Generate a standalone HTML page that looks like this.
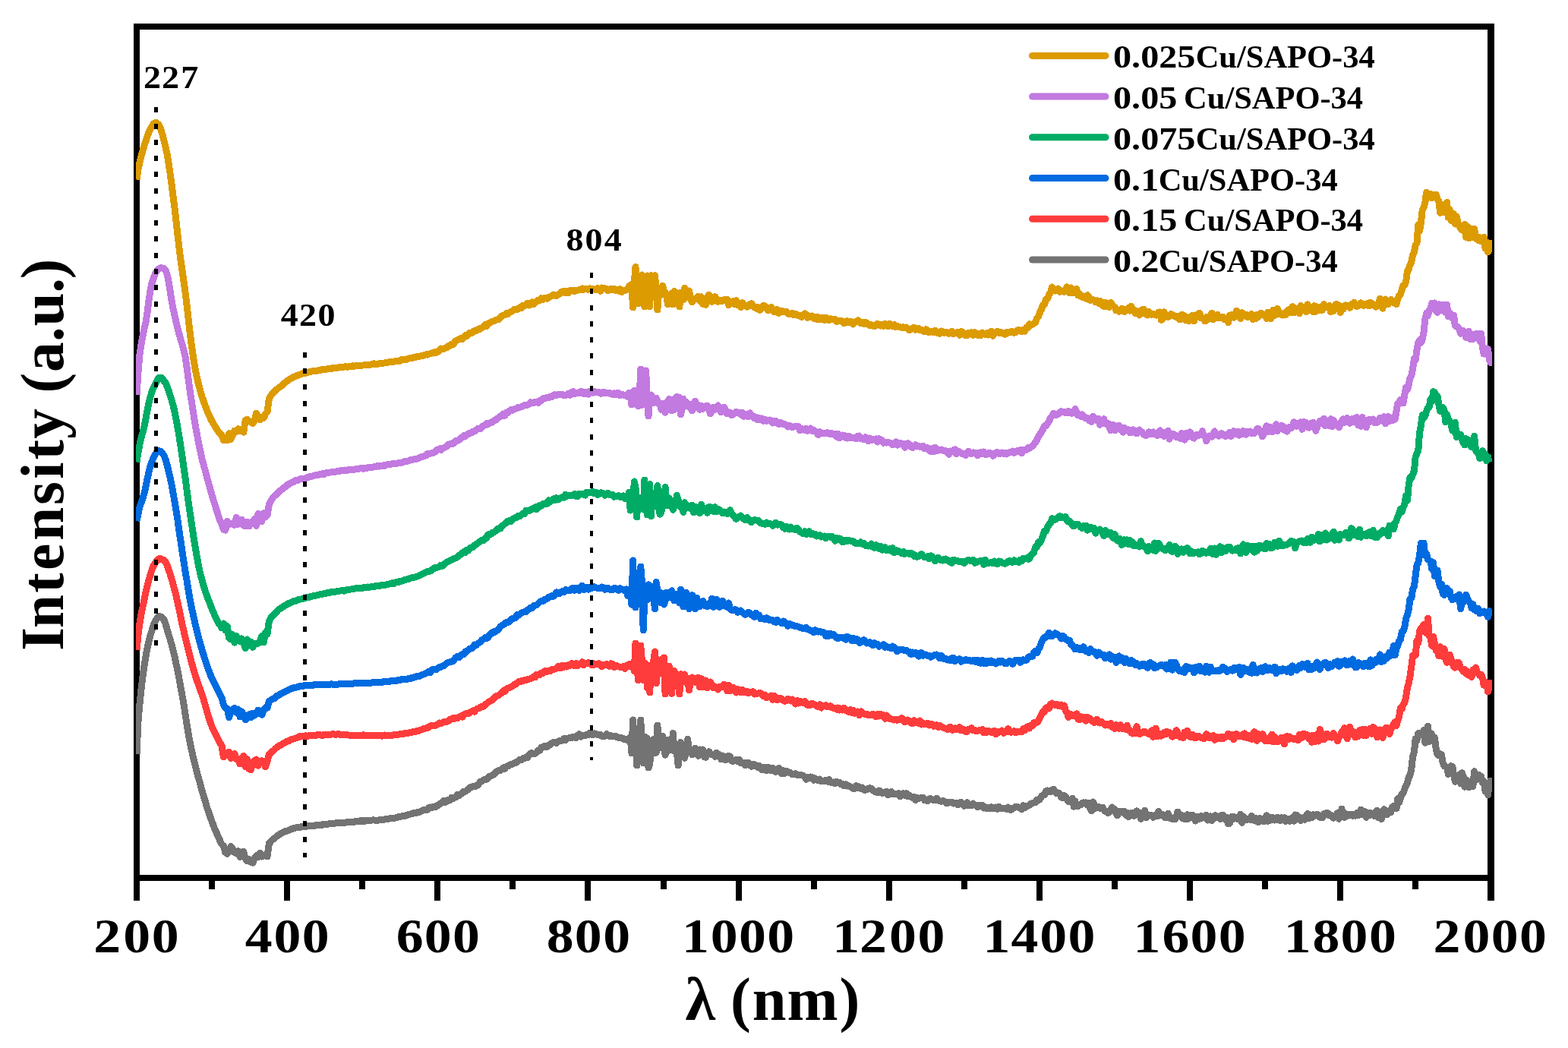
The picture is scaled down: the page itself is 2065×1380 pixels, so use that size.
<!DOCTYPE html>
<html lang="en"><head><meta charset="utf-8"><title>UV-Vis-NIR spectra of Cu/SAPO-34</title>
<style>
html,body{margin:0;padding:0;background:#fff;}
body{width:2065px;height:1380px;overflow:hidden;}
svg{display:block;}
svg text{font-family:"Liberation Serif","DejaVu Serif",serif;font-weight:bold;fill:#000;}
</style></head>
<body>
<svg xmlns="http://www.w3.org/2000/svg" width="2065" height="1380" viewBox="0 0 2065 1380">
<rect width="2065" height="1380" fill="#fff"/>
<g shape-rendering="crispEdges">
<rect x="176" y="31" width="8" height="1155" fill="#000"/>
<rect x="1959" y="31" width="9" height="1155" fill="#000"/>
<rect x="176" y="31" width="1792" height="8" fill="#000"/>
<rect x="176" y="1152" width="1792" height="8" fill="#000"/>
<rect x="275" y="1160" width="8" height="11" fill="#000"/>
<rect x="374" y="1160" width="8" height="26" fill="#000"/>
<rect x="473" y="1160" width="8" height="11" fill="#000"/>
<rect x="572" y="1160" width="8" height="26" fill="#000"/>
<rect x="671" y="1160" width="8" height="11" fill="#000"/>
<rect x="770" y="1160" width="8" height="26" fill="#000"/>
<rect x="870" y="1160" width="8" height="11" fill="#000"/>
<rect x="969" y="1160" width="8" height="26" fill="#000"/>
<rect x="1068" y="1160" width="8" height="11" fill="#000"/>
<rect x="1167" y="1160" width="8" height="26" fill="#000"/>
<rect x="1266" y="1160" width="8" height="11" fill="#000"/>
<rect x="1365" y="1160" width="8" height="26" fill="#000"/>
<rect x="1464" y="1160" width="8" height="11" fill="#000"/>
<rect x="1563" y="1160" width="8" height="26" fill="#000"/>
<rect x="1662" y="1160" width="8" height="11" fill="#000"/>
<rect x="1761" y="1160" width="8" height="26" fill="#000"/>
<rect x="1860" y="1160" width="8" height="11" fill="#000"/>
</g>
<clipPath id="pc"><rect x="179" y="39" width="1786" height="1113"/></clipPath>
<g shape-rendering="crispEdges" clip-path="url(#pc)">
<polyline fill="none" stroke="#DC9B00" stroke-width="9" stroke-linejoin="round" points="180.0,236.5 182.0,223.1 184.0,213.3 186.0,205.2 188.0,198.8 190.0,191.3 192.0,186.1 194.0,179.3 196.0,174.4 198.0,169.8 200.0,166.5 202.0,162.9 204.0,161.9 206.0,161.5 208.0,163.3 210.0,165.3 212.0,171.1 214.0,177.7 216.0,185.2 218.0,193.6 220.0,202.6 222.0,214.5 224.0,227.9 226.0,242.7 228.0,258.4 230.0,273.9 232.0,291.4 234.0,309.2 236.0,326.8 238.0,342.7 240.0,356.5 242.0,370.3 244.0,384.8 246.0,401.2 248.0,418.9 250.0,436.7 252.0,452.5 254.0,466.7 256.0,479.6 258.0,490.6 260.0,499.9 262.0,508.0 264.0,515.3 266.0,522.6 268.0,528.0 270.0,533.3 272.0,538.8 274.0,544.2 276.0,548.2 278.0,552.5 280.0,556.3 282.0,559.6 284.0,562.7 286.0,566.0 288.0,568.8 290.0,571.2 292.0,573.2 294.4,579.7 296.8,577.4 299.2,580.0 301.6,570.7 304.0,578.5 306.4,572.9 308.8,567.1 311.2,568.6 313.6,564.7 316.0,568.0 318.4,567.9 320.8,569.1 323.2,553.5 325.6,552.1 328.0,554.5 330.4,555.9 332.8,557.5 335.2,554.2 337.6,544.1 340.0,549.4 342.4,552.7 344.8,549.6 347.2,550.4 349.6,545.0 352.0,542.3 354.4,525.0 356.8,520.6 358.8,518.3 360.8,516.2 362.8,513.9 364.8,512.5 366.8,510.8 368.8,509.6 370.8,508.1 372.8,506.2 374.8,504.4 376.8,502.7 378.8,501.4 380.8,499.8 382.8,498.5 384.8,497.5 386.8,496.3 388.8,495.8 390.8,494.5 392.8,494.2 394.8,493.2 396.8,492.7 398.8,491.7 400.8,491.6 402.8,491.2 404.8,490.2 406.8,490.0 408.8,489.6 410.8,488.8 412.8,489.0 414.8,488.8 416.8,488.0 418.8,488.0 420.8,487.2 422.8,487.2 424.8,486.4 426.8,486.9 428.8,486.4 430.8,486.0 432.8,485.5 434.8,485.8 436.8,485.8 438.8,484.3 440.8,485.0 442.8,484.9 444.8,484.3 446.8,483.6 448.8,484.0 450.8,483.5 452.8,483.1 454.8,482.8 456.8,483.1 458.8,483.0 460.8,482.3 462.8,482.5 464.8,481.8 466.8,482.2 468.8,481.8 470.8,481.5 472.8,481.3 474.8,481.4 476.8,481.2 478.8,480.9 480.8,480.6 482.8,480.4 484.8,480.4 486.8,480.1 488.8,480.0 490.8,479.5 492.8,478.7 494.8,479.5 496.8,479.7 498.8,478.9 500.8,478.6 502.8,478.3 504.8,478.1 506.8,477.9 508.8,477.3 510.8,477.2 512.8,476.8 514.8,476.8 516.8,476.3 518.8,476.2 520.8,475.6 522.8,475.6 524.8,475.0 526.8,475.2 528.8,473.6 530.8,473.5 532.8,473.6 534.8,473.6 536.8,472.4 538.8,472.0 540.8,471.5 542.8,471.5 544.8,470.6 546.8,470.5 548.8,469.8 550.8,469.1 552.8,469.1 554.8,468.8 556.8,468.6 558.8,467.7 560.8,466.8 562.8,467.1 564.8,466.3 566.8,465.7 568.8,464.8 570.8,465.1 572.8,463.8 574.8,464.3 576.8,462.9 578.8,461.8 580.8,459.1 582.8,460.0 584.8,459.0 586.8,458.3 588.8,457.5 590.8,455.4 592.8,455.3 594.8,453.1 596.8,453.9 598.8,450.2 600.8,448.6 602.8,447.5 604.8,446.9 606.8,445.5 608.8,446.8 610.8,443.7 612.8,441.7 614.8,442.4 616.8,439.9 618.8,438.1 620.8,438.6 622.8,437.3 624.8,435.4 626.8,435.9 628.8,433.8 630.8,434.0 632.8,432.1 634.8,431.9 636.8,429.7 638.8,427.6 640.8,429.5 642.8,426.1 644.8,425.4 646.8,424.0 648.8,423.3 650.8,422.7 652.8,421.6 654.8,420.9 656.8,420.8 658.8,418.2 660.8,416.3 662.8,415.2 664.8,414.6 666.8,412.7 668.8,413.6 670.8,411.4 672.8,410.5 674.8,409.7 676.8,407.6 678.8,407.0 680.8,407.4 682.8,406.4 684.8,404.7 686.8,405.7 688.8,402.4 690.8,402.4 692.8,401.8 694.8,399.2 696.8,402.1 698.8,400.1 700.8,397.8 702.8,400.7 704.8,398.2 706.8,397.3 708.8,395.3 710.8,395.4 712.8,392.7 714.8,394.8 716.8,392.7 718.8,392.6 720.8,393.2 722.8,391.3 724.8,390.6 726.8,389.9 728.8,388.0 730.8,389.2 732.8,389.4 734.8,387.8 736.8,387.4 738.8,384.7 740.8,384.2 742.8,383.1 744.8,385.8 746.8,383.7 748.8,385.4 750.8,382.4 752.8,382.6 754.8,382.9 756.8,383.6 758.8,382.3 760.8,382.2 762.8,381.7 764.8,381.7 766.8,379.9 768.8,381.2 770.8,380.7 772.8,380.8 774.8,381.3 776.8,379.9 778.8,380.6 780.8,380.3 782.8,381.2 784.8,381.7 786.8,379.6 788.8,381.5 790.8,383.3 792.8,379.0 794.8,379.8 796.8,379.8 798.8,380.6 800.8,382.9 802.8,381.0 804.8,380.2 806.8,381.8 808.8,380.4 810.8,382.6 812.8,381.7 814.8,383.0 816.8,380.7 818.8,384.6 820.8,382.6 822.8,382.6 824.8,381.8 826.8,379.9 828.5,376.8 830.2,381.1 831.9,374.3 833.6,405.0 835.3,371.0 837.0,351.5 838.7,396.3 840.4,400.0 842.1,398.8 843.8,380.3 845.5,362.0 847.2,388.7 848.9,404.0 850.6,373.0 852.3,363.0 854.0,400.0 855.7,404.0 857.4,362.7 859.1,364.0 860.8,372.0 862.5,362.7 864.2,380.9 865.9,408.0 867.6,381.1 869.3,389.0 871.0,385.0 872.7,376.0 874.4,384.9 876.1,385.2 877.8,390.6 879.5,401.0 881.2,394.8 882.9,394.1 884.6,386.3 886.3,401.0 888.0,383.5 889.7,384.9 891.4,389.6 893.1,387.6 894.8,404.0 896.5,385.3 898.2,386.3 899.9,394.8 901.6,379.3 903.6,392.0 905.6,389.1 907.6,383.0 909.6,393.6 911.6,398.0 913.6,394.4 915.6,393.3 917.6,392.0 919.6,390.0 921.6,396.3 923.6,390.9 925.6,400.5 927.6,395.4 929.6,401.5 931.6,391.0 933.6,388.2 935.6,396.6 937.6,397.2 939.6,395.0 941.6,390.6 943.6,394.1 945.6,397.4 947.6,395.5 949.6,396.0 951.6,396.2 953.6,394.6 955.6,395.9 957.6,394.2 959.6,401.8 961.6,397.1 963.6,399.5 965.6,396.7 967.6,400.8 969.6,395.8 971.6,401.7 973.6,400.2 975.6,404.5 977.6,398.6 979.6,401.5 981.6,402.3 983.6,404.2 985.6,401.7 987.6,402.9 989.6,399.6 991.6,402.1 993.6,404.6 995.6,406.0 997.6,404.1 999.6,408.2 1001.6,408.0 1003.6,405.5 1005.6,402.2 1007.6,403.5 1009.6,405.4 1011.6,408.6 1013.6,407.7 1015.6,404.5 1017.6,407.6 1019.6,410.6 1021.6,408.0 1023.6,407.8 1025.6,412.3 1027.6,409.7 1029.6,409.2 1031.6,410.8 1033.6,410.7 1035.6,410.4 1037.6,413.2 1039.6,413.5 1041.6,413.5 1043.6,412.4 1045.6,414.7 1047.6,413.3 1049.6,414.4 1051.6,415.6 1053.6,415.7 1055.6,417.5 1057.6,415.9 1059.6,413.0 1061.6,414.2 1063.6,418.3 1065.6,416.1 1067.6,417.6 1069.6,416.0 1071.6,419.2 1073.6,417.4 1075.6,420.5 1077.6,417.8 1079.6,420.6 1081.6,420.2 1083.6,418.4 1085.6,421.5 1087.6,418.7 1089.6,419.1 1091.6,421.7 1093.6,419.9 1095.6,420.2 1097.6,420.9 1099.6,420.1 1101.6,423.4 1103.6,423.0 1105.6,422.2 1107.6,422.4 1109.6,423.4 1111.6,425.6 1113.6,424.5 1115.6,422.6 1117.6,424.8 1119.6,423.7 1121.6,423.7 1123.6,427.1 1125.6,423.8 1127.6,423.9 1129.6,421.9 1131.6,423.0 1133.6,426.0 1135.6,424.4 1137.6,426.5 1139.6,424.2 1141.6,425.0 1143.6,427.3 1145.6,428.7 1147.6,427.6 1149.6,428.7 1151.6,429.7 1153.6,428.9 1155.6,426.2 1157.6,427.7 1159.6,429.0 1161.6,427.7 1163.6,429.2 1165.6,426.4 1167.6,427.7 1169.6,430.0 1171.6,426.1 1173.6,428.0 1175.6,429.8 1177.6,427.5 1179.6,430.4 1181.6,429.4 1183.6,430.3 1185.6,430.6 1187.6,431.5 1189.6,430.6 1191.6,431.8 1193.6,431.0 1195.6,433.0 1197.6,434.9 1199.6,432.9 1201.6,433.1 1203.6,431.3 1205.6,434.3 1207.6,432.3 1209.6,432.5 1211.6,434.7 1213.6,434.4 1215.6,436.0 1217.6,436.7 1219.6,433.9 1221.6,435.2 1223.6,437.8 1225.6,436.8 1227.6,436.7 1229.6,437.8 1231.6,435.2 1233.6,437.3 1235.6,438.8 1237.6,439.3 1239.6,436.0 1241.6,437.0 1243.6,438.3 1245.6,437.5 1247.6,437.6 1249.6,439.4 1251.6,438.1 1253.6,436.2 1255.6,439.6 1257.6,438.6 1259.6,438.3 1261.6,437.2 1263.6,441.2 1265.6,436.5 1267.6,437.3 1269.6,439.5 1271.6,441.8 1273.6,442.0 1275.6,438.3 1277.6,439.7 1279.6,437.6 1281.6,441.4 1283.6,437.6 1285.6,439.5 1287.6,441.2 1289.6,439.2 1291.6,441.6 1293.6,438.0 1295.6,439.7 1297.6,440.3 1299.6,438.7 1301.6,440.9 1303.6,439.5 1305.6,436.1 1307.6,442.2 1309.6,439.3 1311.6,438.4 1313.6,436.1 1315.6,438.2 1317.6,437.3 1319.6,438.8 1321.6,438.3 1323.6,440.4 1325.6,437.7 1327.6,438.1 1329.6,437.8 1331.6,436.8 1333.6,436.6 1335.6,438.3 1337.6,437.6 1339.6,435.2 1341.6,434.2 1343.6,435.4 1345.6,436.8 1347.6,434.3 1349.6,436.2 1351.6,431.5 1353.6,431.9 1355.6,426.8 1357.6,428.4 1359.6,427.2 1361.6,426.0 1363.6,424.8 1365.6,419.0 1367.6,416.9 1369.6,411.1 1371.6,407.3 1373.6,401.4 1375.6,400.8 1377.6,393.9 1379.6,393.2 1381.6,387.7 1383.6,385.2 1385.6,378.0 1387.6,382.1 1389.6,383.0 1391.6,382.1 1393.6,380.0 1395.6,384.2 1397.6,382.6 1399.6,383.7 1401.6,384.2 1403.4,380.8 1405.2,377.9 1407.0,380.6 1408.8,386.0 1410.6,379.0 1412.4,385.5 1414.2,382.4 1416.0,385.4 1417.8,380.6 1419.6,388.8 1421.4,386.7 1423.2,390.0 1425.0,389.3 1426.8,391.8 1428.6,390.5 1430.4,393.5 1432.2,388.7 1434.0,390.4 1435.8,395.6 1437.6,394.4 1439.4,394.6 1441.2,395.4 1443.0,397.8 1444.8,395.8 1446.6,399.2 1448.4,396.3 1450.2,398.3 1452.0,402.4 1453.8,403.3 1455.6,398.4 1457.4,403.9 1459.2,399.7 1461.0,404.8 1462.8,398.5 1464.6,401.1 1466.4,403.1 1468.2,404.5 1470.0,409.0 1471.8,408.1 1473.6,410.3 1475.4,409.8 1477.2,406.4 1479.0,406.8 1480.8,410.7 1482.6,408.4 1484.4,408.3 1486.2,405.5 1488.0,409.1 1489.8,403.2 1491.6,408.9 1493.4,407.8 1495.2,412.5 1497.0,409.7 1498.8,410.4 1500.6,415.1 1502.4,408.9 1504.2,412.8 1506.0,407.1 1507.8,412.6 1509.6,413.7 1511.4,415.1 1513.2,410.5 1515.0,414.0 1516.8,414.1 1518.6,413.4 1520.4,414.0 1522.2,415.0 1524.0,415.0 1525.8,411.3 1527.6,411.0 1529.4,421.3 1531.2,419.8 1533.0,410.9 1534.8,416.2 1536.6,416.9 1538.4,417.4 1540.2,416.0 1542.0,413.3 1543.8,415.6 1545.6,415.0 1547.4,417.0 1549.2,416.1 1551.0,416.7 1552.8,420.2 1554.6,421.0 1556.4,414.4 1558.2,416.7 1560.0,415.9 1561.8,421.8 1563.6,418.3 1565.4,422.8 1567.2,417.4 1569.0,418.9 1570.8,415.0 1572.6,422.6 1574.4,417.9 1576.2,414.6 1578.0,417.2 1579.8,412.2 1581.6,418.7 1583.4,419.0 1585.2,419.5 1587.0,422.9 1588.8,417.6 1590.6,420.8 1592.4,419.3 1594.2,417.7 1596.0,412.2 1597.8,420.9 1599.6,416.6 1601.4,418.1 1603.2,414.2 1605.0,418.7 1606.8,418.1 1608.6,417.8 1610.4,417.2 1612.2,420.6 1614.0,420.3 1615.8,419.5 1617.6,424.7 1619.4,415.4 1621.2,415.9 1623.0,414.0 1624.8,418.2 1626.6,414.8 1628.4,409.2 1630.2,413.0 1632.0,416.8 1633.8,419.6 1635.6,411.7 1637.4,414.5 1639.2,415.8 1641.0,414.0 1642.8,417.7 1644.6,416.0 1646.4,416.9 1648.2,413.6 1650.0,420.5 1651.8,415.7 1653.6,419.6 1655.4,414.2 1657.2,417.3 1659.0,413.3 1660.8,412.3 1662.6,413.0 1664.4,414.9 1666.2,414.3 1668.0,419.6 1669.8,411.1 1671.6,411.2 1673.4,419.7 1675.2,416.1 1677.0,408.1 1678.8,415.3 1680.6,414.2 1682.4,406.4 1684.2,411.7 1686.0,412.5 1687.8,414.6 1689.6,415.0 1691.4,412.0 1693.2,414.6 1695.0,410.6 1696.8,408.0 1698.6,407.5 1700.4,411.9 1702.2,403.7 1704.0,411.9 1705.8,405.9 1707.6,408.1 1709.4,410.7 1711.2,412.8 1713.0,402.3 1714.8,405.8 1716.6,408.4 1718.4,406.1 1720.2,410.6 1722.0,400.8 1723.8,408.6 1725.6,408.6 1727.4,407.2 1729.2,410.5 1731.0,402.7 1732.8,410.2 1734.6,404.0 1736.4,408.5 1738.2,404.9 1740.0,408.5 1741.8,408.2 1743.6,400.6 1745.4,404.8 1747.2,404.8 1749.0,404.2 1750.8,402.3 1752.6,410.9 1754.4,405.2 1756.2,409.6 1758.0,402.3 1759.8,400.5 1761.6,404.4 1763.4,401.9 1765.2,411.7 1767.0,404.3 1768.8,407.2 1770.6,402.4 1772.4,401.9 1774.2,402.7 1776.0,403.8 1777.8,405.3 1779.6,401.8 1781.4,399.8 1783.2,398.3 1785.0,401.5 1786.8,403.5 1788.6,402.9 1790.4,401.1 1792.2,398.9 1794.0,401.3 1795.8,402.6 1797.6,400.3 1799.4,400.6 1801.2,399.5 1803.0,403.0 1804.8,398.1 1806.6,400.0 1808.4,400.6 1810.2,401.6 1812.0,404.1 1813.8,401.1 1815.6,400.7 1817.4,393.2 1819.2,400.4 1821.0,406.1 1822.8,394.9 1824.6,394.0 1826.4,396.6 1828.2,400.6 1830.0,398.5 1831.8,394.6 1833.6,395.7 1835.4,398.7 1837.2,396.2 1839.0,400.8 1840.8,393.8 1842.6,389.2 1844.4,387.7 1846.2,381.6 1848.0,375.9 1849.8,375.4 1851.6,371.0 1853.4,357.4 1855.2,354.4 1857.0,348.7 1858.8,345.0 1860.6,335.7 1862.4,331.9 1864.2,322.7 1866.0,319.9 1867.8,296.0 1869.6,304.5 1871.4,293.1 1873.2,276.4 1875.0,273.5 1876.8,266.9 1878.6,253.4 1880.4,255.2 1882.2,257.7 1884.0,255.3 1885.8,260.7 1887.6,256.3 1889.4,258.1 1891.2,256.2 1893.0,262.1 1894.8,264.5 1896.6,280.2 1898.4,274.0 1900.2,269.1 1902.0,279.8 1903.8,278.4 1905.6,266.6 1907.4,286.4 1909.2,276.0 1911.0,290.6 1912.8,283.1 1914.6,281.8 1916.4,295.1 1918.2,284.7 1920.0,292.4 1921.8,297.6 1923.6,301.2 1925.4,303.1 1927.2,299.3 1929.0,295.3 1930.8,312.7 1932.6,298.5 1934.4,313.9 1936.2,301.3 1938.0,312.0 1939.8,312.6 1941.6,301.2 1943.4,311.0 1945.2,315.0 1947.0,316.4 1948.8,312.8 1950.6,317.6 1952.4,315.2 1954.2,312.3 1956.0,326.9 1957.8,319.1 1959.6,332.0 1961.4,328.6 1963.2,320.8 1963.5,325.3"/>
<polyline fill="none" stroke="#C279E0" stroke-width="9" stroke-linejoin="round" points="180.0,519.9 182.0,490.0 184.0,466.6 186.0,453.6 188.0,442.4 190.0,433.0 192.0,424.5 194.0,411.5 196.0,395.7 198.0,382.8 200.0,372.9 202.0,366.9 204.0,361.4 206.0,357.4 208.0,355.0 210.0,353.3 212.0,352.6 214.0,353.0 216.0,353.7 218.0,356.0 220.0,361.1 222.0,370.0 224.0,382.6 226.0,395.7 228.0,406.2 230.0,415.5 232.0,424.1 234.0,432.2 236.0,439.9 238.0,447.3 240.0,453.3 242.0,461.0 244.0,469.6 246.0,483.6 248.0,498.5 250.0,513.6 252.0,526.7 254.0,539.3 256.0,552.2 258.0,564.1 260.0,575.0 262.0,585.7 264.0,594.4 266.0,604.1 268.0,611.8 270.0,618.8 272.0,626.6 274.0,633.8 276.0,640.8 278.0,648.0 280.0,655.1 282.0,661.3 284.0,667.7 286.0,674.0 288.0,680.4 290.0,686.2 292.0,689.8 294.4,697.2 296.8,698.1 299.2,686.4 301.6,690.7 304.0,689.7 306.4,689.8 308.8,691.4 311.2,681.3 313.6,690.2 316.0,687.3 318.4,684.3 320.8,692.1 323.2,692.9 325.6,687.4 328.0,693.0 330.4,687.7 332.8,688.6 335.2,683.3 337.6,692.5 340.0,676.3 342.4,684.6 344.8,686.8 347.2,675.7 349.6,680.8 352.0,678.7 354.4,664.1 356.8,659.3 358.8,656.3 360.8,653.6 362.8,652.2 364.8,650.2 366.8,647.9 368.8,646.4 370.8,644.8 372.8,643.3 374.8,641.6 376.8,640.5 378.8,638.1 380.8,637.5 382.8,636.1 384.8,635.0 386.8,634.5 388.8,632.6 390.8,632.9 392.8,632.0 394.8,630.9 396.8,630.8 398.8,630.0 400.8,630.4 402.8,629.7 404.8,628.8 406.8,628.0 408.8,627.6 410.8,627.1 412.8,626.6 414.8,626.0 416.8,625.7 418.8,625.4 420.8,624.8 422.8,624.3 424.8,623.8 426.8,624.4 428.8,622.8 430.8,622.6 432.8,622.6 434.8,622.0 436.8,621.9 438.8,621.7 440.8,621.5 442.8,621.0 444.8,620.2 446.8,620.6 448.8,619.5 450.8,619.7 452.8,619.4 454.8,619.0 456.8,619.3 458.8,618.8 460.8,618.9 462.8,618.0 464.8,618.5 466.8,618.1 468.8,617.8 470.8,617.1 472.8,617.2 474.8,616.6 476.8,616.2 478.8,617.3 480.8,616.5 482.8,616.5 484.8,615.6 486.8,615.7 488.8,615.4 490.8,615.1 492.8,614.7 494.8,614.4 496.8,613.5 498.8,614.1 500.8,613.7 502.8,613.6 504.8,612.9 506.8,613.2 508.8,612.3 510.8,611.7 512.8,612.0 514.8,611.3 516.8,610.7 518.8,610.8 520.8,610.6 522.8,610.1 524.8,609.8 526.8,610.0 528.8,609.1 530.8,608.9 532.8,607.4 534.8,607.7 536.8,607.3 538.8,606.5 540.8,605.8 542.8,605.7 544.8,604.9 546.8,604.3 548.8,604.2 550.8,603.6 552.8,602.6 554.8,601.7 556.8,601.2 558.8,600.6 560.8,600.0 562.8,597.5 564.8,597.6 566.8,597.3 568.8,596.7 570.8,596.1 572.8,595.1 574.8,592.7 576.8,592.2 578.8,590.9 580.8,592.4 582.8,590.2 584.8,589.5 586.8,588.9 588.8,586.9 590.8,585.2 592.8,584.7 594.8,583.9 596.8,584.2 598.8,582.6 600.8,580.0 602.8,580.3 604.8,579.2 606.8,576.7 608.8,576.3 610.8,573.8 612.8,574.5 614.8,572.9 616.8,570.9 618.8,570.3 620.8,570.0 622.8,568.2 624.8,567.8 626.8,566.9 628.8,564.7 630.8,564.0 632.8,564.9 634.8,562.2 636.8,560.4 638.8,560.0 640.8,557.8 642.8,558.7 644.8,557.0 646.8,556.5 648.8,555.3 650.8,553.8 652.8,553.1 654.8,551.4 656.8,549.7 658.8,548.3 660.8,547.7 662.8,545.0 664.8,547.3 666.8,543.4 668.8,543.5 670.8,541.4 672.8,539.7 674.8,540.2 676.8,539.0 678.8,538.2 680.8,537.9 682.8,536.2 684.8,536.3 686.8,535.7 688.8,534.4 690.8,533.8 692.8,533.8 694.8,532.9 696.8,532.3 698.8,529.7 700.8,531.0 702.8,530.7 704.8,529.3 706.8,529.2 708.8,530.3 710.8,527.4 712.8,527.4 714.8,525.0 716.8,524.4 718.8,524.3 720.8,523.1 722.8,523.8 724.8,522.2 726.8,522.5 728.8,520.5 730.8,519.8 732.8,520.5 734.8,519.6 736.8,519.7 738.8,519.4 740.8,519.3 742.8,520.7 744.8,520.8 746.8,519.8 748.8,518.3 750.8,520.3 752.8,516.5 754.8,515.7 756.8,518.3 758.8,517.8 760.8,517.5 762.8,517.5 764.8,515.4 766.8,515.8 768.8,518.6 770.8,518.2 772.8,516.1 774.8,519.2 776.8,515.5 778.8,516.1 780.8,517.1 782.8,515.4 784.8,516.2 786.8,516.7 788.8,516.5 790.8,518.2 792.8,518.0 794.8,516.1 796.8,516.7 798.8,517.9 800.8,517.8 802.8,517.1 804.8,518.8 806.8,519.5 808.8,518.0 810.8,520.0 812.8,517.4 814.8,517.8 816.8,520.7 818.8,519.5 820.8,519.7 822.8,521.0 824.8,520.9 826.8,522.7 828.5,517.3 830.2,521.1 831.9,533.0 833.6,523.5 835.3,514.1 837.0,526.5 838.7,526.6 840.4,535.0 842.1,525.0 843.8,486.0 845.5,533.2 847.2,490.0 848.9,513.5 850.6,488.0 852.3,524.0 854.0,548.0 855.7,523.5 857.4,520.0 859.1,527.8 860.8,530.8 862.5,526.8 864.2,524.3 865.9,527.9 867.6,532.1 869.3,530.8 871.0,539.4 872.7,531.3 874.4,532.9 876.1,543.1 877.8,529.5 879.5,532.8 881.2,525.4 882.9,530.0 884.6,540.6 886.3,532.1 888.0,539.5 889.7,524.0 891.4,522.3 893.1,532.8 894.8,523.2 896.5,545.8 898.2,538.7 899.9,525.0 901.6,531.2 903.6,529.3 905.6,534.8 907.6,532.5 909.6,537.8 911.6,540.6 913.6,532.5 915.6,528.2 917.6,536.6 919.6,533.5 921.6,539.5 923.6,534.1 925.6,538.4 927.6,536.6 929.6,534.8 931.6,534.1 933.6,538.6 935.6,545.0 937.6,539.4 939.6,536.4 941.6,539.4 943.6,537.8 945.6,533.9 947.6,539.0 949.6,542.8 951.6,537.9 953.6,536.2 955.6,540.8 957.6,544.7 959.6,542.8 961.6,543.4 963.6,546.8 965.6,545.6 967.6,543.9 969.6,542.3 971.6,543.6 973.6,543.6 975.6,546.1 977.6,543.1 979.6,548.4 981.6,546.3 983.6,545.8 985.6,548.6 987.6,543.9 989.6,546.8 991.6,547.7 993.6,550.8 995.6,549.1 997.6,552.9 999.6,550.2 1001.6,552.4 1003.6,550.9 1005.6,554.4 1007.6,552.6 1009.6,554.4 1011.6,553.3 1013.6,552.9 1015.6,554.7 1017.6,557.1 1019.6,554.5 1021.6,554.1 1023.6,556.4 1025.6,558.5 1027.6,556.2 1029.6,557.4 1031.6,559.0 1033.6,558.7 1035.6,560.1 1037.6,561.9 1039.6,560.7 1041.6,561.0 1043.6,562.7 1045.6,562.0 1047.6,561.1 1049.6,561.5 1051.6,561.8 1053.6,566.8 1055.6,564.4 1057.6,565.8 1059.6,566.4 1061.6,564.4 1063.6,567.2 1065.6,565.9 1067.6,564.0 1069.6,567.2 1071.6,566.4 1073.6,567.9 1075.6,569.3 1077.6,572.6 1079.6,568.9 1081.6,569.8 1083.6,570.9 1085.6,571.0 1087.6,570.9 1089.6,569.8 1091.6,570.4 1093.6,571.9 1095.6,570.7 1097.6,571.8 1099.6,571.2 1101.6,575.1 1103.6,571.5 1105.6,576.9 1107.6,573.4 1109.6,573.0 1111.6,573.1 1113.6,576.3 1115.6,577.0 1117.6,574.4 1119.6,576.5 1121.6,576.0 1123.6,576.1 1125.6,576.9 1127.6,578.0 1129.6,574.2 1131.6,574.0 1133.6,577.9 1135.6,577.7 1137.6,579.0 1139.6,575.7 1141.6,577.0 1143.6,581.0 1145.6,577.0 1147.6,579.8 1149.6,578.3 1151.6,579.1 1153.6,577.9 1155.6,582.1 1157.6,577.7 1159.6,579.0 1161.6,579.8 1163.6,583.2 1165.6,582.2 1167.6,583.1 1169.6,582.4 1171.6,583.1 1173.6,583.8 1175.6,585.7 1177.6,584.1 1179.6,581.8 1181.6,586.1 1183.6,584.9 1185.6,583.4 1187.6,585.1 1189.6,584.2 1191.6,589.2 1193.6,585.9 1195.6,583.7 1197.6,587.5 1199.6,586.1 1201.6,589.6 1203.6,588.3 1205.6,585.7 1207.6,588.0 1209.6,587.5 1211.6,588.3 1213.6,588.8 1215.6,587.1 1217.6,590.7 1219.6,589.3 1221.6,589.6 1223.6,592.3 1225.6,594.3 1227.6,590.8 1229.6,594.8 1231.6,589.3 1233.6,593.5 1235.6,592.0 1237.6,593.1 1239.6,592.0 1241.6,592.8 1243.6,593.5 1245.6,593.7 1247.6,595.1 1249.6,598.2 1251.6,594.0 1253.6,595.0 1255.6,592.8 1257.6,591.9 1259.6,597.9 1261.6,594.0 1263.6,595.1 1265.6,596.4 1267.6,597.9 1269.6,597.1 1271.6,599.5 1273.6,596.6 1275.6,594.2 1277.6,597.2 1279.6,597.3 1281.6,595.9 1283.6,596.8 1285.6,596.5 1287.6,600.0 1289.6,596.6 1291.6,595.5 1293.6,598.0 1295.6,594.9 1297.6,598.3 1299.6,598.3 1301.6,596.5 1303.6,596.9 1305.6,596.9 1307.6,600.2 1309.6,598.4 1311.6,595.9 1313.6,595.7 1315.6,597.4 1317.6,597.3 1319.6,596.0 1321.6,597.3 1323.6,596.4 1325.6,598.0 1327.6,596.8 1329.6,595.7 1331.6,595.8 1333.6,593.9 1335.6,596.2 1337.6,595.2 1339.6,593.6 1341.6,594.1 1343.6,592.7 1345.6,596.9 1347.6,592.1 1349.6,593.0 1351.6,592.2 1353.6,589.8 1355.6,590.2 1357.6,588.7 1359.6,587.9 1361.6,585.0 1363.6,582.3 1365.6,579.3 1367.6,574.8 1369.6,571.9 1371.6,569.0 1373.6,565.4 1375.6,560.7 1377.6,561.1 1379.6,557.4 1381.6,554.6 1383.6,549.9 1385.6,547.8 1387.6,544.2 1389.6,546.2 1391.6,546.2 1393.6,545.3 1395.6,543.7 1397.6,541.6 1399.6,542.7 1401.6,542.3 1403.4,543.8 1405.2,543.9 1407.0,541.4 1408.8,542.1 1410.6,544.2 1412.4,544.0 1414.2,542.9 1416.0,538.6 1417.8,542.8 1419.6,546.9 1421.4,545.8 1423.2,548.4 1425.0,545.9 1426.8,547.7 1428.6,550.2 1430.4,550.7 1432.2,550.7 1434.0,553.1 1435.8,554.4 1437.6,555.2 1439.4,548.3 1441.2,551.9 1443.0,553.0 1444.8,553.6 1446.6,551.1 1448.4,559.2 1450.2,554.1 1452.0,557.5 1453.8,551.8 1455.6,557.3 1457.4,558.5 1459.2,557.4 1461.0,562.2 1462.8,567.0 1464.6,559.2 1466.4,559.7 1468.2,566.9 1470.0,564.3 1471.8,562.5 1473.6,560.4 1475.4,566.1 1477.2,565.2 1479.0,569.1 1480.8,563.2 1482.6,565.4 1484.4,565.4 1486.2,566.0 1488.0,569.8 1489.8,569.5 1491.6,565.9 1493.4,567.7 1495.2,567.6 1497.0,570.9 1498.8,568.3 1500.6,566.0 1502.4,568.3 1504.2,569.3 1506.0,572.1 1507.8,573.2 1509.6,573.4 1511.4,571.1 1513.2,568.9 1515.0,572.0 1516.8,570.1 1518.6,569.0 1520.4,571.7 1522.2,572.1 1524.0,573.5 1525.8,568.8 1527.6,566.8 1529.4,572.9 1531.2,569.0 1533.0,574.6 1534.8,569.0 1536.6,570.6 1538.4,567.3 1540.2,578.2 1542.0,571.5 1543.8,572.7 1545.6,571.7 1547.4,572.7 1549.2,575.9 1551.0,574.1 1552.8,574.0 1554.6,577.5 1556.4,570.5 1558.2,577.7 1560.0,579.2 1561.8,570.8 1563.6,575.6 1565.4,571.3 1567.2,568.9 1569.0,572.5 1570.8,576.4 1572.6,577.1 1574.4,573.8 1576.2,572.4 1578.0,573.6 1579.8,572.7 1581.6,572.9 1583.4,567.7 1585.2,573.9 1587.0,574.2 1588.8,580.8 1590.6,576.4 1592.4,574.0 1594.2,574.5 1596.0,575.2 1597.8,572.1 1599.6,567.9 1601.4,571.8 1603.2,573.2 1605.0,574.1 1606.8,571.5 1608.6,570.8 1610.4,572.6 1612.2,573.4 1614.0,574.7 1615.8,572.1 1617.6,574.0 1619.4,569.5 1621.2,574.7 1623.0,571.9 1624.8,567.8 1626.6,570.9 1628.4,571.8 1630.2,568.1 1632.0,573.2 1633.8,569.9 1635.6,572.0 1637.4,567.5 1639.2,571.3 1641.0,572.3 1642.8,568.6 1644.6,569.2 1646.4,567.9 1648.2,570.4 1650.0,569.3 1651.8,570.6 1653.6,568.7 1655.4,564.8 1657.2,564.4 1659.0,566.9 1660.8,569.5 1662.6,574.9 1664.4,570.4 1666.2,565.5 1668.0,560.9 1669.8,568.6 1671.6,566.8 1673.4,562.6 1675.2,568.9 1677.0,565.7 1678.8,564.0 1680.6,558.8 1682.4,567.6 1684.2,564.3 1686.0,562.9 1687.8,560.2 1689.6,561.7 1691.4,566.4 1693.2,563.7 1695.0,568.1 1696.8,564.8 1698.6,562.2 1700.4,563.7 1702.2,561.1 1704.0,555.8 1705.8,558.4 1707.6,561.3 1709.4,557.1 1711.2,558.3 1713.0,555.9 1714.8,565.3 1716.6,555.5 1718.4,556.3 1720.2,556.7 1722.0,562.7 1723.8,563.1 1725.6,557.6 1727.4,561.2 1729.2,556.3 1731.0,559.2 1732.8,567.3 1734.6,562.1 1736.4,558.7 1738.2,554.4 1740.0,557.6 1741.8,554.1 1743.6,551.1 1745.4,560.2 1747.2,559.9 1749.0,558.4 1750.8,560.9 1752.6,551.8 1754.4,561.8 1756.2,553.3 1758.0,558.0 1759.8,558.1 1761.6,560.0 1763.4,562.9 1765.2,557.1 1767.0,554.5 1768.8,551.9 1770.6,556.4 1772.4,552.5 1774.2,550.6 1776.0,554.5 1777.8,557.3 1779.6,553.9 1781.4,551.3 1783.2,555.3 1785.0,550.5 1786.8,549.5 1788.6,559.6 1790.4,555.4 1792.2,561.3 1794.0,549.3 1795.8,557.9 1797.6,553.6 1799.4,562.8 1801.2,553.3 1803.0,552.3 1804.8,555.2 1806.6,554.3 1808.4,551.9 1810.2,556.6 1812.0,555.7 1813.8,556.2 1815.6,554.4 1817.4,550.3 1819.2,550.1 1821.0,554.5 1822.8,548.8 1824.6,557.8 1826.4,551.7 1828.2,548.4 1830.0,554.5 1831.8,550.3 1833.6,554.0 1835.4,549.0 1837.2,552.1 1839.0,541.3 1840.8,531.4 1842.6,530.3 1844.4,526.4 1846.2,530.6 1848.0,530.9 1849.8,519.3 1851.6,510.2 1853.4,513.0 1855.2,506.9 1857.0,497.7 1858.8,494.8 1860.6,485.8 1862.4,472.5 1864.2,474.1 1866.0,460.5 1867.8,451.0 1869.6,447.8 1871.4,451.3 1873.2,447.0 1875.0,437.4 1876.8,420.6 1878.6,412.4 1880.4,415.6 1882.2,408.4 1884.0,407.4 1885.8,399.1 1887.6,400.2 1889.4,398.9 1891.2,409.8 1893.0,411.4 1894.8,400.9 1896.6,408.6 1898.4,409.1 1900.2,401.2 1902.0,406.1 1903.8,411.5 1905.6,401.2 1907.4,416.9 1909.2,411.6 1911.0,417.2 1912.8,419.4 1914.6,415.5 1916.4,429.2 1918.2,430.0 1920.0,430.3 1921.8,433.7 1923.6,439.2 1925.4,436.9 1927.2,435.5 1929.0,439.9 1930.8,444.5 1932.6,440.7 1934.4,436.2 1936.2,446.5 1938.0,440.4 1939.8,446.5 1941.6,443.1 1943.4,439.6 1945.2,439.1 1947.0,443.1 1948.8,449.1 1950.6,439.3 1952.4,458.1 1954.2,466.1 1956.0,461.7 1957.8,460.0 1959.6,459.7 1961.4,473.9 1963.2,477.8 1963.5,476.1"/>
<polyline fill="none" stroke="#00AC65" stroke-width="9" stroke-linejoin="round" points="180.0,608.5 182.0,595.7 184.0,585.0 186.0,576.2 188.0,569.5 190.0,561.6 192.0,551.6 194.0,540.3 196.0,530.4 198.0,522.7 200.0,515.8 202.0,510.9 204.0,506.6 206.0,502.9 208.0,499.1 210.0,497.1 212.0,497.2 214.0,498.6 216.0,501.9 218.0,504.3 220.0,508.5 222.0,514.1 224.0,520.4 226.0,526.5 228.0,533.7 230.0,542.2 232.0,552.2 234.0,563.0 236.0,574.9 238.0,587.9 240.0,601.4 242.0,615.3 244.0,629.2 246.0,644.8 248.0,660.0 250.0,673.9 252.0,687.5 254.0,700.5 256.0,713.8 258.0,725.6 260.0,736.6 262.0,747.6 264.0,756.3 266.0,763.6 268.0,770.9 270.0,777.4 272.0,783.2 274.0,788.9 276.0,793.4 278.0,798.9 280.0,804.0 282.0,808.5 284.0,812.8 286.0,816.8 288.0,820.7 290.0,823.3 292.0,827.0 294.4,821.0 296.8,829.9 299.2,824.5 301.6,840.0 304.0,841.9 306.4,835.8 308.8,846.1 311.2,837.3 313.6,842.6 316.0,844.4 318.4,840.9 320.8,847.6 323.2,853.6 325.6,842.0 328.0,849.3 330.4,845.2 332.8,852.3 335.2,847.2 337.6,847.7 340.0,847.3 342.4,845.1 344.8,837.7 347.2,846.0 349.6,833.0 352.0,834.9 354.4,818.1 356.8,813.2 358.8,811.3 360.8,809.5 362.8,807.1 364.8,804.9 366.8,802.8 368.8,801.6 370.8,800.3 372.8,799.0 374.8,797.6 376.8,796.8 378.8,795.3 380.8,794.4 382.8,793.7 384.8,792.4 386.8,791.8 388.8,791.8 390.8,790.7 392.8,789.5 394.8,789.2 396.8,788.9 398.8,788.5 400.8,787.7 402.8,787.0 404.8,786.5 406.8,786.5 408.8,785.8 410.8,785.1 412.8,784.6 414.8,784.1 416.8,784.0 418.8,783.1 420.8,783.0 422.8,782.7 424.8,782.2 426.8,781.5 428.8,781.8 430.8,780.8 432.8,780.8 434.8,780.1 436.8,779.5 438.8,779.8 440.8,779.5 442.8,779.0 444.8,778.8 446.8,778.2 448.8,777.9 450.8,777.8 452.8,778.1 454.8,777.5 456.8,776.8 458.8,776.8 460.8,776.2 462.8,775.9 464.8,776.0 466.8,775.3 468.8,774.7 470.8,774.7 472.8,774.7 474.8,774.4 476.8,774.5 478.8,773.6 480.8,773.8 482.8,773.4 484.8,773.0 486.8,773.1 488.8,772.7 490.8,772.1 492.8,772.4 494.8,771.5 496.8,771.6 498.8,771.3 500.8,771.1 502.8,770.5 504.8,770.4 506.8,770.0 508.8,770.0 510.8,769.1 512.8,769.0 514.8,768.4 516.8,767.7 518.8,768.4 520.8,767.1 522.8,766.2 524.8,766.6 526.8,765.3 528.8,765.2 530.8,764.8 532.8,763.8 534.8,763.3 536.8,762.6 538.8,762.2 540.8,761.1 542.8,760.6 544.8,760.3 546.8,759.9 548.8,759.1 550.8,758.7 552.8,757.6 554.8,756.5 556.8,755.8 558.8,754.4 560.8,753.4 562.8,752.5 564.8,752.6 566.8,752.0 568.8,750.1 570.8,749.2 572.8,747.4 574.8,747.6 576.8,747.0 578.8,746.1 580.8,744.1 582.8,745.3 584.8,743.6 586.8,741.5 588.8,740.1 590.8,739.1 592.8,738.3 594.8,737.1 596.8,736.3 598.8,735.3 600.8,734.6 602.8,733.2 604.8,731.0 606.8,730.1 608.8,728.2 610.8,726.8 612.8,727.5 614.8,724.3 616.8,725.0 618.8,721.8 620.8,721.0 622.8,720.4 624.8,718.3 626.8,717.3 628.8,715.5 630.8,713.9 632.8,712.8 634.8,711.0 636.8,711.4 638.8,708.5 640.8,708.6 642.8,703.8 644.8,704.3 646.8,703.3 648.8,701.1 650.8,700.7 652.8,698.9 654.8,696.8 656.8,695.9 658.8,696.1 660.8,693.0 662.8,691.6 664.8,689.7 666.8,688.8 668.8,686.2 670.8,685.8 672.8,686.6 674.8,684.2 676.8,682.6 678.8,681.8 680.8,681.3 682.8,679.3 684.8,679.5 686.8,677.8 688.8,676.1 690.8,676.5 692.8,672.4 694.8,673.0 696.8,672.9 698.8,671.0 700.8,670.7 702.8,669.1 704.8,668.0 706.8,670.7 708.8,667.4 710.8,665.5 712.8,666.2 714.8,663.5 716.8,664.0 718.8,662.5 720.8,663.2 722.8,658.8 724.8,660.6 726.8,659.1 728.8,656.8 730.8,658.8 732.8,655.7 734.8,658.1 736.8,656.1 738.8,655.8 740.8,654.5 742.8,655.1 744.8,651.3 746.8,653.2 748.8,652.0 750.8,652.8 752.8,652.0 754.8,652.5 756.8,650.5 758.8,653.4 760.8,653.7 762.8,650.4 764.8,650.3 766.8,650.5 768.8,651.5 770.8,652.1 772.8,648.2 774.8,648.8 776.8,648.2 778.8,648.1 780.8,647.5 782.8,650.0 784.8,648.2 786.8,651.5 788.8,650.9 790.8,648.8 792.8,649.0 794.8,649.7 796.8,652.3 798.8,649.8 800.8,649.3 802.8,651.3 804.8,652.0 806.8,651.1 808.8,654.2 810.8,653.0 812.8,653.8 814.8,652.8 816.8,654.3 818.8,654.8 820.8,652.8 822.8,656.4 824.8,654.3 826.8,656.7 828.5,648.4 830.2,672.1 831.9,660.5 833.6,666.6 835.3,634.0 837.0,642.3 838.7,681.0 840.4,654.7 842.1,669.8 843.8,660.2 845.5,668.8 847.2,670.8 848.9,632.0 850.6,663.3 852.3,678.0 854.0,653.6 855.7,637.5 857.4,680.0 859.1,655.8 860.8,665.5 862.5,652.0 864.2,662.4 865.9,639.7 867.6,670.2 869.3,677.2 871.0,674.4 872.7,648.9 874.4,665.6 876.1,641.6 877.8,665.6 879.5,663.0 881.2,655.8 882.9,666.6 884.6,665.2 886.3,671.2 888.0,665.5 889.7,666.4 891.4,652.2 893.1,657.9 894.8,662.6 896.5,667.5 898.2,666.0 899.9,674.5 901.6,661.8 903.6,665.6 905.6,668.4 907.6,666.2 909.6,670.1 911.6,665.3 913.6,674.9 915.6,667.2 917.6,673.8 919.6,669.1 921.6,675.7 923.6,664.3 925.6,672.2 927.6,669.0 929.6,671.7 931.6,675.4 933.6,667.8 935.6,667.7 937.6,669.2 939.6,673.5 941.6,667.6 943.6,673.7 945.6,670.3 947.6,671.2 949.6,673.7 951.6,676.0 953.6,674.0 955.6,674.8 957.6,676.3 959.6,676.2 961.6,671.8 963.6,676.9 965.6,678.5 967.6,681.1 969.6,683.4 971.6,681.1 973.6,680.5 975.6,679.1 977.6,681.6 979.6,683.3 981.6,684.7 983.6,681.5 985.6,684.0 987.6,685.6 989.6,687.9 991.6,685.6 993.6,684.7 995.6,684.9 997.6,685.9 999.6,685.8 1001.6,688.6 1003.6,689.4 1005.6,689.2 1007.6,690.3 1009.6,688.2 1011.6,689.9 1013.6,689.1 1015.6,690.2 1017.6,692.2 1019.6,690.8 1021.6,688.4 1023.6,691.2 1025.6,690.9 1027.6,690.1 1029.6,691.5 1031.6,694.6 1033.6,696.2 1035.6,693.5 1037.6,696.2 1039.6,697.0 1041.6,694.0 1043.6,696.2 1045.6,696.7 1047.6,697.5 1049.6,695.4 1051.6,697.8 1053.6,700.4 1055.6,701.2 1057.6,702.6 1059.6,699.8 1061.6,703.6 1063.6,702.3 1065.6,699.8 1067.6,703.4 1069.6,702.3 1071.6,704.0 1073.6,703.6 1075.6,706.0 1077.6,705.1 1079.6,704.7 1081.6,707.0 1083.6,706.4 1085.6,705.9 1087.6,708.8 1089.6,706.7 1091.6,706.8 1093.6,707.4 1095.6,706.4 1097.6,708.2 1099.6,712.2 1101.6,708.5 1103.6,710.3 1105.6,709.0 1107.6,710.1 1109.6,713.7 1111.6,713.1 1113.6,711.3 1115.6,712.6 1117.6,711.7 1119.6,712.1 1121.6,712.3 1123.6,712.7 1125.6,714.9 1127.6,715.7 1129.6,715.9 1131.6,715.3 1133.6,713.9 1135.6,716.2 1137.6,715.3 1139.6,718.4 1141.6,718.3 1143.6,719.0 1145.6,717.7 1147.6,715.9 1149.6,720.4 1151.6,721.2 1153.6,717.6 1155.6,720.4 1157.6,722.4 1159.6,719.4 1161.6,724.1 1163.6,721.4 1165.6,720.7 1167.6,724.8 1169.6,723.7 1171.6,722.7 1173.6,725.5 1175.6,721.7 1177.6,727.8 1179.6,724.3 1181.6,726.4 1183.6,725.8 1185.6,727.5 1187.6,728.7 1189.6,726.5 1191.6,729.4 1193.6,728.2 1195.6,728.1 1197.6,729.2 1199.6,728.5 1201.6,729.2 1203.6,732.2 1205.6,731.0 1207.6,733.3 1209.6,732.6 1211.6,730.8 1213.6,729.8 1215.6,732.0 1217.6,733.7 1219.6,733.7 1221.6,732.7 1223.6,735.7 1225.6,731.9 1227.6,732.9 1229.6,735.3 1231.6,738.7 1233.6,736.3 1235.6,734.4 1237.6,737.1 1239.6,737.5 1241.6,738.1 1243.6,736.4 1245.6,736.0 1247.6,737.7 1249.6,738.3 1251.6,740.4 1253.6,741.3 1255.6,737.3 1257.6,737.8 1259.6,738.7 1261.6,738.6 1263.6,739.8 1265.6,740.0 1267.6,739.8 1269.6,741.5 1271.6,739.4 1273.6,738.2 1275.6,737.5 1277.6,738.4 1279.6,738.4 1281.6,737.2 1283.6,741.2 1285.6,740.5 1287.6,739.7 1289.6,739.0 1291.6,738.1 1293.6,739.1 1295.6,743.3 1297.6,737.3 1299.6,740.8 1301.6,741.8 1303.6,740.9 1305.6,740.2 1307.6,741.9 1309.6,739.0 1311.6,741.5 1313.6,742.8 1315.6,739.0 1317.6,739.3 1319.6,740.7 1321.6,741.9 1323.6,742.3 1325.6,741.2 1327.6,739.1 1329.6,738.3 1331.6,740.2 1333.6,740.3 1335.6,737.8 1337.6,739.4 1339.6,739.6 1341.6,740.5 1343.6,737.1 1345.6,738.8 1347.6,735.4 1349.6,735.6 1351.6,734.9 1353.6,736.1 1355.6,736.1 1357.6,731.2 1359.6,729.5 1361.6,727.3 1363.6,720.3 1365.6,720.2 1367.6,713.7 1369.6,714.4 1371.6,710.5 1373.6,705.1 1375.6,699.1 1377.6,699.1 1379.6,693.9 1381.6,690.7 1383.6,688.5 1385.6,682.7 1387.6,684.2 1389.6,684.2 1391.6,682.5 1393.6,681.6 1395.6,679.6 1397.6,681.7 1399.6,681.0 1401.6,681.2 1403.4,680.6 1405.2,685.0 1407.0,687.2 1408.8,686.4 1410.6,689.0 1412.4,691.3 1414.2,693.0 1416.0,690.6 1417.8,690.2 1419.6,690.3 1421.4,692.0 1423.2,693.9 1425.0,695.4 1426.8,692.5 1428.6,694.4 1430.4,692.1 1432.2,698.2 1434.0,694.5 1435.8,696.8 1437.6,694.6 1439.4,696.1 1441.2,695.6 1443.0,702.1 1444.8,699.3 1446.6,698.5 1448.4,697.1 1450.2,698.5 1452.0,702.2 1453.8,705.6 1455.6,698.5 1457.4,700.6 1459.2,703.2 1461.0,702.9 1462.8,701.1 1464.6,706.2 1466.4,708.9 1468.2,703.7 1470.0,709.1 1471.8,711.9 1473.6,712.7 1475.4,709.8 1477.2,717.6 1479.0,713.7 1480.8,710.7 1482.6,715.9 1484.4,710.9 1486.2,716.6 1488.0,711.3 1489.8,717.2 1491.6,713.9 1493.4,718.8 1495.2,718.2 1497.0,717.7 1498.8,717.1 1500.6,720.1 1502.4,712.7 1504.2,719.0 1506.0,719.3 1507.8,720.0 1509.6,721.0 1511.4,725.8 1513.2,719.6 1515.0,721.8 1516.8,720.3 1518.6,724.4 1520.4,715.0 1522.2,725.4 1524.0,719.2 1525.8,715.1 1527.6,718.7 1529.4,721.4 1531.2,722.7 1533.0,722.3 1534.8,724.9 1536.6,722.8 1538.4,723.0 1540.2,717.5 1542.0,725.0 1543.8,726.7 1545.6,722.9 1547.4,719.1 1549.2,720.7 1551.0,729.4 1552.8,723.1 1554.6,723.1 1556.4,722.9 1558.2,727.3 1560.0,723.8 1561.8,723.2 1563.6,721.6 1565.4,725.7 1567.2,729.0 1569.0,725.9 1570.8,729.0 1572.6,727.1 1574.4,727.1 1576.2,727.3 1578.0,726.9 1579.8,729.9 1581.6,728.4 1583.4,725.3 1585.2,727.4 1587.0,726.8 1588.8,728.3 1590.6,727.3 1592.4,727.9 1594.2,722.2 1596.0,727.5 1597.8,730.0 1599.6,722.0 1601.4,730.4 1603.2,726.3 1605.0,724.6 1606.8,719.7 1608.6,728.0 1610.4,721.7 1612.2,722.8 1614.0,725.8 1615.8,720.9 1617.6,720.9 1619.4,720.2 1621.2,723.2 1623.0,725.2 1624.8,724.6 1626.6,724.5 1628.4,722.2 1630.2,723.5 1632.0,721.0 1633.8,729.0 1635.6,723.5 1637.4,716.9 1639.2,719.5 1641.0,727.6 1642.8,718.4 1644.6,721.2 1646.4,723.7 1648.2,719.0 1650.0,725.5 1651.8,727.2 1653.6,719.4 1655.4,725.3 1657.2,718.9 1659.0,718.3 1660.8,721.9 1662.6,721.7 1664.4,718.8 1666.2,723.0 1668.0,715.6 1669.8,717.2 1671.6,716.2 1673.4,721.6 1675.2,721.4 1677.0,720.7 1678.8,714.2 1680.6,718.4 1682.4,719.2 1684.2,712.3 1686.0,714.6 1687.8,718.9 1689.6,718.9 1691.4,717.2 1693.2,717.8 1695.0,716.9 1696.8,716.0 1698.6,715.0 1700.4,712.2 1702.2,714.0 1704.0,713.2 1705.8,721.7 1707.6,714.8 1709.4,713.7 1711.2,712.7 1713.0,712.8 1714.8,712.0 1716.6,714.4 1718.4,712.3 1720.2,714.8 1722.0,709.6 1723.8,712.7 1725.6,714.2 1727.4,707.2 1729.2,711.3 1731.0,711.2 1732.8,709.0 1734.6,708.2 1736.4,703.4 1738.2,713.0 1740.0,705.9 1741.8,704.6 1743.6,710.6 1745.4,702.0 1747.2,711.1 1749.0,709.0 1750.8,709.3 1752.6,706.6 1754.4,702.8 1756.2,700.3 1758.0,711.3 1759.8,704.6 1761.6,704.3 1763.4,711.1 1765.2,703.5 1767.0,704.6 1768.8,704.4 1770.6,704.5 1772.4,701.3 1774.2,702.7 1776.0,708.8 1777.8,706.9 1779.6,695.6 1781.4,697.3 1783.2,705.0 1785.0,703.3 1786.8,702.2 1788.6,707.0 1790.4,697.2 1792.2,707.3 1794.0,703.6 1795.8,704.9 1797.6,703.8 1799.4,705.8 1801.2,702.0 1803.0,700.9 1804.8,705.5 1806.6,703.3 1808.4,698.3 1810.2,707.3 1812.0,706.7 1813.8,707.4 1815.6,702.6 1817.4,703.4 1819.2,700.7 1821.0,698.4 1822.8,701.9 1824.6,701.8 1826.4,698.0 1828.2,705.7 1830.0,692.0 1831.8,693.1 1833.6,691.8 1835.4,696.8 1837.2,689.0 1839.0,685.8 1840.8,680.2 1842.6,676.5 1844.4,670.2 1846.2,674.2 1848.0,668.0 1849.8,664.2 1851.6,652.6 1853.4,659.2 1855.2,639.2 1857.0,628.4 1858.8,629.7 1860.6,624.9 1862.4,620.2 1864.2,601.3 1866.0,597.4 1867.8,593.4 1869.6,569.4 1871.4,560.7 1873.2,546.4 1875.0,550.5 1876.8,547.8 1878.6,541.7 1880.4,537.1 1882.2,536.4 1884.0,525.8 1885.8,528.6 1887.6,515.6 1889.4,516.5 1891.2,524.6 1893.0,521.4 1894.8,532.8 1896.6,541.5 1898.4,539.8 1900.2,536.8 1902.0,540.0 1903.8,555.7 1905.6,545.6 1907.4,553.6 1909.2,554.2 1911.0,558.5 1912.8,567.1 1914.6,559.5 1916.4,556.4 1918.2,575.6 1920.0,570.2 1921.8,575.1 1923.6,572.4 1925.4,579.0 1927.2,583.6 1929.0,585.9 1930.8,577.7 1932.6,578.8 1934.4,584.8 1936.2,585.2 1938.0,588.8 1939.8,582.6 1941.6,574.3 1943.4,592.4 1945.2,595.7 1947.0,596.2 1948.8,603.6 1950.6,600.0 1952.4,593.7 1954.2,603.1 1956.0,597.8 1957.8,606.9 1959.6,601.8 1961.4,604.0 1963.2,603.5 1963.5,602.6"/>
<polyline fill="none" stroke="#006BE0" stroke-width="9" stroke-linejoin="round" points="180.0,686.0 182.0,676.4 184.0,667.7 186.0,661.9 188.0,656.2 190.0,649.5 192.0,640.9 194.0,630.9 196.0,621.4 198.0,613.8 200.0,608.1 202.0,602.7 204.0,599.1 206.0,596.0 208.0,593.5 210.0,593.8 212.0,594.7 214.0,597.3 216.0,599.8 218.0,605.0 220.0,611.9 222.0,620.0 224.0,628.5 226.0,637.8 228.0,649.6 230.0,660.3 232.0,672.5 234.0,684.8 236.0,699.5 238.0,712.6 240.0,726.3 242.0,739.5 244.0,752.1 246.0,764.0 248.0,776.4 250.0,788.1 252.0,798.6 254.0,807.8 256.0,816.6 258.0,825.5 260.0,833.2 262.0,841.4 264.0,848.2 266.0,855.5 268.0,862.1 270.0,868.7 272.0,874.4 274.0,880.5 276.0,885.4 278.0,890.8 280.0,895.3 282.0,898.8 284.0,903.3 286.0,907.2 288.0,910.7 290.0,915.0 292.0,918.7 294.4,928.0 296.8,932.4 299.2,933.0 301.6,944.8 304.0,935.3 306.4,934.9 308.8,932.5 311.2,938.1 313.6,934.0 316.0,943.9 318.4,937.0 320.8,940.6 323.2,947.8 325.6,944.5 328.0,940.7 330.4,944.9 332.8,939.2 335.2,942.1 337.6,938.9 340.0,935.1 342.4,939.7 344.8,941.1 347.2,935.6 349.6,931.7 352.0,932.1 354.4,923.7 356.8,921.8 358.8,920.4 360.8,920.0 362.8,917.9 364.8,916.3 366.8,915.8 368.8,914.3 370.8,913.2 372.8,912.2 374.8,911.1 376.8,909.9 378.8,909.3 380.8,908.3 382.8,907.1 384.8,906.5 386.8,905.6 388.8,905.4 390.8,904.9 392.8,904.3 394.8,903.8 396.8,903.2 398.8,903.4 400.8,902.7 402.8,902.7 404.8,902.4 406.8,902.5 408.8,902.2 410.8,902.8 412.8,902.1 414.8,901.4 416.8,901.7 418.8,901.3 420.8,901.9 422.8,902.0 424.8,901.3 426.8,901.6 428.8,901.3 430.8,901.5 432.8,901.8 434.8,901.1 436.8,900.8 438.8,901.3 440.8,901.2 442.8,901.2 444.8,901.2 446.8,900.6 448.8,900.2 450.8,901.0 452.8,900.5 454.8,900.1 456.8,900.0 458.8,900.6 460.8,900.2 462.8,900.2 464.8,900.2 466.8,899.7 468.8,899.4 470.8,899.4 472.8,899.2 474.8,899.4 476.8,899.1 478.8,899.3 480.8,899.0 482.8,899.0 484.8,899.2 486.8,899.3 488.8,899.3 490.8,898.7 492.8,898.7 494.8,898.4 496.8,898.7 498.8,898.8 500.8,898.0 502.8,898.3 504.8,897.8 506.8,897.7 508.8,897.7 510.8,897.3 512.8,897.5 514.8,896.6 516.8,896.6 518.8,896.6 520.8,896.0 522.8,896.2 524.8,895.3 526.8,895.5 528.8,894.7 530.8,894.8 532.8,894.6 534.8,894.8 536.8,894.0 538.8,893.8 540.8,892.9 542.8,893.1 544.8,891.9 546.8,891.4 548.8,890.6 550.8,890.5 552.8,890.1 554.8,888.9 556.8,888.3 558.8,887.5 560.8,886.6 562.8,885.6 564.8,884.2 566.8,885.5 568.8,881.9 570.8,881.9 572.8,882.0 574.8,881.7 576.8,879.8 578.8,878.8 580.8,878.1 582.8,876.9 584.8,876.7 586.8,874.6 588.8,873.1 590.8,872.3 592.8,871.6 594.8,871.3 596.8,870.4 598.8,867.6 600.8,865.5 602.8,864.3 604.8,865.8 606.8,862.5 608.8,861.8 610.8,861.7 612.8,858.3 614.8,857.4 616.8,855.7 618.8,854.0 620.8,854.1 622.8,852.8 624.8,849.1 626.8,850.0 628.8,847.6 630.8,846.5 632.8,845.1 634.8,842.4 636.8,841.7 638.8,839.7 640.8,840.5 642.8,839.3 644.8,836.1 646.8,833.6 648.8,834.0 650.8,831.4 652.8,831.5 654.8,830.2 656.8,828.5 658.8,825.4 660.8,823.6 662.8,822.5 664.8,821.5 666.8,819.5 668.8,819.9 670.8,818.1 672.8,816.2 674.8,814.6 676.8,814.2 678.8,813.5 680.8,809.6 682.8,810.2 684.8,808.6 686.8,807.1 688.8,806.3 690.8,805.6 692.8,805.9 694.8,803.4 696.8,801.9 698.8,800.1 700.8,800.8 702.8,797.7 704.8,797.1 706.8,796.7 708.8,794.6 710.8,792.7 712.8,791.7 714.8,791.9 716.8,789.8 718.8,789.1 720.8,788.2 722.8,786.3 724.8,786.1 726.8,784.4 728.8,785.2 730.8,783.5 732.8,780.0 734.8,781.0 736.8,781.8 738.8,779.4 740.8,778.5 742.8,779.6 744.8,776.6 746.8,777.5 748.8,777.7 750.8,777.6 752.8,775.0 754.8,774.3 756.8,777.3 758.8,774.2 760.8,774.7 762.8,777.4 764.8,773.6 766.8,771.3 768.8,776.7 770.8,774.7 772.8,773.8 774.8,776.2 776.8,773.0 778.8,774.8 780.8,773.1 782.8,772.8 784.8,773.9 786.8,774.3 788.8,774.9 790.8,774.9 792.8,773.0 794.8,773.7 796.8,776.3 798.8,774.8 800.8,774.4 802.8,776.1 804.8,776.3 806.8,776.4 808.8,774.4 810.8,774.9 812.8,776.5 814.8,777.3 816.8,774.7 818.8,775.8 820.8,776.3 822.8,778.1 824.8,775.8 826.8,784.6 828.5,778.0 830.2,782.1 831.9,796.1 833.6,738.0 835.3,786.2 837.0,800.0 838.7,784.0 840.4,767.0 842.1,778.3 843.8,746.0 845.5,767.9 847.2,830.0 848.9,785.4 850.6,790.0 852.3,789.7 854.0,769.9 855.7,787.4 857.4,772.1 859.1,777.4 860.8,786.0 862.5,801.9 864.2,766.7 865.9,778.8 867.6,779.2 869.3,793.4 871.0,780.7 872.7,787.3 874.4,796.1 876.1,791.0 877.8,780.4 879.5,780.6 881.2,782.4 882.9,786.5 884.6,777.9 886.3,785.2 888.0,791.0 889.7,782.3 891.4,782.6 893.1,789.4 894.8,794.0 896.5,776.4 898.2,779.7 899.9,798.8 901.6,788.3 903.6,780.2 905.6,790.2 907.6,801.6 909.6,785.5 911.6,783.6 913.6,789.1 915.6,802.0 917.6,787.4 919.6,795.5 921.6,798.7 923.6,796.7 925.6,791.5 927.6,797.5 929.6,795.3 931.6,799.0 933.6,797.2 935.6,796.4 937.6,788.2 939.6,799.4 941.6,796.5 943.6,789.1 945.6,797.7 947.6,799.3 949.6,798.3 951.6,791.1 953.6,797.2 955.6,797.0 957.6,799.4 959.6,794.0 961.6,802.1 963.6,803.3 965.6,803.9 967.6,802.7 969.6,803.1 971.6,806.4 973.6,805.6 975.6,804.1 977.6,806.3 979.6,807.7 981.6,809.4 983.6,808.4 985.6,806.4 987.6,807.6 989.6,809.7 991.6,810.5 993.6,812.4 995.6,807.3 997.6,810.2 999.6,809.9 1001.6,814.6 1003.6,814.5 1005.6,814.3 1007.6,815.6 1009.6,813.8 1011.6,816.2 1013.6,815.9 1015.6,816.5 1017.6,816.7 1019.6,818.8 1021.6,819.4 1023.6,816.2 1025.6,818.0 1027.6,819.4 1029.6,820.7 1031.6,817.9 1033.6,819.4 1035.6,820.9 1037.6,824.4 1039.6,821.1 1041.6,822.3 1043.6,823.3 1045.6,823.7 1047.6,824.6 1049.6,824.8 1051.6,825.1 1053.6,826.3 1055.6,826.8 1057.6,827.5 1059.6,828.0 1061.6,826.1 1063.6,828.6 1065.6,829.1 1067.6,830.5 1069.6,830.9 1071.6,832.6 1073.6,829.6 1075.6,831.1 1077.6,832.1 1079.6,831.3 1081.6,832.3 1083.6,832.7 1085.6,833.0 1087.6,837.5 1089.6,834.5 1091.6,837.3 1093.6,834.3 1095.6,836.4 1097.6,835.5 1099.6,837.5 1101.6,839.9 1103.6,840.8 1105.6,839.5 1107.6,839.5 1109.6,839.2 1111.6,840.3 1113.6,842.2 1115.6,838.2 1117.6,840.6 1119.6,840.0 1121.6,843.4 1123.6,840.5 1125.6,844.0 1127.6,841.5 1129.6,842.1 1131.6,846.3 1133.6,846.1 1135.6,843.6 1137.6,842.8 1139.6,844.4 1141.6,847.1 1143.6,846.7 1145.6,845.7 1147.6,848.4 1149.6,850.0 1151.6,846.7 1153.6,848.7 1155.6,848.1 1157.6,851.3 1159.6,850.3 1161.6,849.6 1163.6,848.5 1165.6,852.4 1167.6,851.4 1169.6,852.5 1171.6,852.4 1173.6,853.8 1175.6,851.0 1177.6,852.8 1179.6,855.0 1181.6,857.6 1183.6,855.8 1185.6,855.6 1187.6,855.2 1189.6,855.6 1191.6,856.7 1193.6,856.3 1195.6,858.0 1197.6,858.3 1199.6,861.6 1201.6,858.9 1203.6,861.1 1205.6,859.2 1207.6,861.6 1209.6,864.2 1211.6,860.1 1213.6,859.6 1215.6,863.3 1217.6,862.1 1219.6,862.0 1221.6,863.4 1223.6,863.5 1225.6,865.2 1227.6,864.3 1229.6,863.1 1231.6,862.6 1233.6,862.0 1235.6,863.3 1237.6,866.9 1239.6,863.4 1241.6,865.9 1243.6,867.9 1245.6,867.3 1247.6,869.0 1249.6,868.1 1251.6,869.6 1253.6,866.6 1255.6,866.5 1257.6,870.9 1259.6,868.7 1261.6,868.6 1263.6,867.8 1265.6,871.3 1267.6,869.8 1269.6,870.0 1271.6,868.5 1273.6,869.7 1275.6,869.1 1277.6,869.8 1279.6,870.6 1281.6,869.5 1283.6,869.2 1285.6,871.7 1287.6,869.2 1289.6,872.9 1291.6,873.3 1293.6,869.1 1295.6,873.6 1297.6,870.1 1299.6,873.4 1301.6,870.6 1303.6,872.7 1305.6,870.0 1307.6,872.5 1309.6,871.7 1311.6,873.9 1313.6,872.7 1315.6,870.2 1317.6,872.0 1319.6,870.5 1321.6,871.7 1323.6,873.7 1325.6,873.8 1327.6,871.6 1329.6,870.1 1331.6,871.4 1333.6,874.4 1335.6,871.0 1337.6,869.0 1339.6,869.0 1341.6,869.3 1343.6,872.4 1345.6,869.8 1347.6,868.6 1349.6,869.4 1351.6,869.4 1353.6,866.7 1355.6,864.7 1357.6,865.0 1359.6,864.5 1361.6,859.0 1363.6,857.2 1365.6,859.9 1367.6,855.0 1369.6,851.9 1371.6,845.8 1373.6,841.4 1375.6,839.0 1377.6,839.2 1379.6,836.3 1381.6,833.3 1383.6,837.6 1385.6,837.5 1387.6,836.4 1389.6,833.7 1391.6,834.9 1393.6,836.2 1395.6,837.7 1397.6,841.1 1399.6,837.3 1401.6,838.9 1403.4,842.0 1405.2,842.3 1407.0,844.2 1408.8,843.6 1410.6,848.9 1412.4,849.6 1414.2,852.0 1416.0,854.8 1417.8,852.6 1419.6,853.6 1421.4,855.1 1423.2,853.9 1425.0,856.0 1426.8,851.7 1428.6,854.3 1430.4,858.0 1432.2,857.7 1434.0,859.6 1435.8,854.6 1437.6,856.9 1439.4,858.4 1441.2,858.7 1443.0,858.8 1444.8,863.3 1446.6,859.0 1448.4,859.8 1450.2,862.3 1452.0,862.7 1453.8,862.4 1455.6,866.8 1457.4,864.6 1459.2,863.2 1461.0,861.9 1462.8,868.1 1464.6,864.0 1466.4,867.2 1468.2,865.4 1470.0,872.7 1471.8,869.8 1473.6,863.9 1475.4,869.7 1477.2,865.9 1479.0,868.5 1480.8,872.5 1482.6,867.4 1484.4,872.0 1486.2,871.3 1488.0,873.8 1489.8,869.6 1491.6,874.0 1493.4,871.8 1495.2,875.7 1497.0,873.4 1498.8,875.3 1500.6,877.3 1502.4,876.9 1504.2,874.2 1506.0,876.4 1507.8,874.7 1509.6,876.1 1511.4,879.5 1513.2,873.1 1515.0,872.5 1516.8,877.1 1518.6,874.6 1520.4,879.6 1522.2,878.8 1524.0,878.5 1525.8,876.9 1527.6,876.0 1529.4,875.1 1531.2,876.2 1533.0,877.8 1534.8,875.5 1536.6,881.1 1538.4,880.3 1540.2,875.1 1542.0,872.0 1543.8,882.1 1545.6,875.9 1547.4,872.4 1549.2,874.9 1551.0,880.2 1552.8,883.5 1554.6,882.4 1556.4,884.0 1558.2,885.0 1560.0,885.4 1561.8,877.6 1563.6,879.8 1565.4,878.7 1567.2,880.7 1569.0,879.6 1570.8,881.4 1572.6,886.0 1574.4,878.8 1576.2,883.0 1578.0,878.2 1579.8,877.3 1581.6,883.9 1583.4,880.6 1585.2,881.2 1587.0,885.2 1588.8,877.2 1590.6,881.2 1592.4,885.2 1594.2,878.0 1596.0,881.8 1597.8,883.7 1599.6,883.7 1601.4,883.0 1603.2,883.9 1605.0,882.4 1606.8,883.3 1608.6,882.1 1610.4,878.4 1612.2,881.3 1614.0,880.7 1615.8,884.4 1617.6,882.5 1619.4,882.6 1621.2,881.6 1623.0,883.1 1624.8,879.6 1626.6,882.1 1628.4,879.4 1630.2,880.5 1632.0,878.4 1633.8,888.5 1635.6,883.8 1637.4,879.3 1639.2,881.2 1641.0,883.5 1642.8,881.3 1644.6,885.0 1646.4,884.2 1648.2,886.4 1650.0,875.3 1651.8,885.3 1653.6,883.8 1655.4,886.1 1657.2,881.3 1659.0,880.8 1660.8,879.6 1662.6,884.5 1664.4,883.5 1666.2,877.8 1668.0,881.3 1669.8,883.0 1671.6,879.3 1673.4,881.9 1675.2,882.7 1677.0,881.3 1678.8,878.0 1680.6,886.6 1682.4,883.8 1684.2,884.1 1686.0,881.2 1687.8,883.6 1689.6,880.8 1691.4,882.5 1693.2,883.1 1695.0,884.3 1696.8,880.4 1698.6,879.5 1700.4,885.6 1702.2,876.9 1704.0,881.6 1705.8,880.3 1707.6,882.5 1709.4,878.6 1711.2,876.3 1713.0,879.6 1714.8,874.6 1716.6,875.2 1718.4,878.3 1720.2,878.5 1722.0,873.2 1723.8,881.8 1725.6,877.4 1727.4,881.3 1729.2,880.7 1731.0,877.2 1732.8,875.5 1734.6,872.0 1736.4,879.7 1738.2,881.4 1740.0,876.7 1741.8,876.2 1743.6,872.9 1745.4,872.4 1747.2,875.2 1749.0,879.5 1750.8,874.4 1752.6,878.1 1754.4,876.4 1756.2,874.6 1758.0,872.1 1759.8,873.5 1761.6,870.6 1763.4,877.4 1765.2,876.1 1767.0,871.1 1768.8,872.0 1770.6,869.8 1772.4,874.6 1774.2,876.0 1776.0,870.9 1777.8,872.3 1779.6,874.9 1781.4,868.0 1783.2,874.3 1785.0,878.7 1786.8,878.7 1788.6,872.7 1790.4,872.8 1792.2,875.4 1794.0,875.0 1795.8,877.7 1797.6,873.4 1799.4,873.6 1801.2,873.5 1803.0,878.0 1804.8,868.9 1806.6,876.4 1808.4,872.7 1810.2,872.8 1812.0,868.7 1813.8,871.2 1815.6,868.1 1817.4,861.9 1819.2,871.4 1821.0,865.6 1822.8,870.1 1824.6,864.7 1826.4,866.9 1828.2,865.4 1830.0,859.1 1831.8,863.3 1833.6,859.0 1835.4,850.5 1837.2,862.6 1839.0,854.5 1840.8,849.9 1842.6,844.1 1844.4,841.9 1846.2,832.1 1848.0,831.0 1849.8,826.0 1851.6,814.5 1853.4,809.8 1855.2,803.1 1857.0,788.6 1858.8,787.7 1860.6,776.0 1862.4,772.2 1864.2,757.7 1866.0,743.9 1867.8,741.1 1869.6,730.9 1871.4,715.1 1873.2,723.2 1875.0,715.0 1876.8,731.5 1878.6,729.4 1880.4,736.4 1882.2,737.6 1884.0,739.3 1885.8,749.5 1887.6,740.8 1889.4,758.8 1891.2,757.7 1893.0,751.0 1894.8,765.3 1896.6,772.8 1898.4,768.9 1900.2,782.0 1902.0,783.4 1903.8,774.0 1905.6,774.6 1907.4,779.0 1909.2,778.7 1911.0,786.7 1912.8,789.7 1914.6,787.9 1916.4,788.9 1918.2,785.3 1920.0,785.6 1921.8,783.0 1923.6,801.6 1925.4,794.2 1927.2,793.4 1929.0,787.1 1930.8,783.2 1932.6,788.9 1934.4,792.0 1936.2,793.6 1938.0,800.7 1939.8,795.7 1941.6,802.8 1943.4,803.0 1945.2,805.1 1947.0,801.5 1948.8,807.7 1950.6,805.0 1952.4,806.2 1954.2,805.0 1956.0,806.1 1957.8,809.0 1959.6,812.3 1961.4,804.8 1963.2,807.7 1963.5,809.9"/>
<polyline fill="none" stroke="#FF3C3C" stroke-width="9" stroke-linejoin="round" points="180.0,856.1 182.0,835.8 184.0,820.7 186.0,808.5 188.0,799.0 190.0,789.9 192.0,780.0 194.0,771.4 196.0,763.9 198.0,757.0 200.0,750.3 202.0,745.4 204.0,741.8 206.0,739.3 208.0,736.3 210.0,735.4 212.0,735.8 214.0,736.9 216.0,737.4 218.0,740.2 220.0,744.0 222.0,749.8 224.0,755.7 226.0,762.2 228.0,769.5 230.0,776.9 232.0,784.7 234.0,793.4 236.0,802.8 238.0,812.3 240.0,822.1 242.0,830.9 244.0,839.7 246.0,847.8 248.0,855.7 250.0,863.6 252.0,871.1 254.0,878.7 256.0,885.2 258.0,892.3 260.0,897.7 262.0,903.4 264.0,909.0 266.0,914.7 268.0,920.7 270.0,927.7 272.0,934.8 274.0,941.8 276.0,948.2 278.0,954.0 280.0,959.3 282.0,963.4 284.0,967.1 286.0,971.2 288.0,974.9 290.0,978.8 292.0,981.8 294.4,997.0 296.8,992.1 299.2,991.4 301.6,990.3 304.0,998.4 306.4,993.9 308.8,992.5 311.2,999.9 313.6,999.2 316.0,1005.9 318.4,1003.0 320.8,995.4 323.2,1009.6 325.6,999.7 328.0,1012.8 330.4,1013.6 332.8,1004.6 335.2,1001.4 337.6,1000.0 340.0,1008.1 342.4,1003.7 344.8,1001.8 347.2,1002.5 349.6,1010.0 352.0,1002.3 354.4,993.6 356.8,990.8 358.8,989.2 360.8,987.7 362.8,985.5 364.8,984.2 366.8,982.6 368.8,981.3 370.8,980.6 372.8,979.0 374.8,978.0 376.8,976.8 378.8,975.9 380.8,975.4 382.8,974.2 384.8,973.4 386.8,973.0 388.8,972.3 390.8,971.7 392.8,970.9 394.8,969.7 396.8,970.0 398.8,969.6 400.8,969.5 402.8,968.8 404.8,969.7 406.8,968.5 408.8,968.9 410.8,968.6 412.8,968.3 414.8,968.6 416.8,968.1 418.8,967.4 420.8,967.7 422.8,968.0 424.8,968.5 426.8,967.3 428.8,967.6 430.8,968.0 432.8,967.7 434.8,967.3 436.8,967.0 438.8,966.8 440.8,967.1 442.8,967.2 444.8,966.7 446.8,966.9 448.8,967.5 450.8,967.3 452.8,967.3 454.8,967.5 456.8,967.4 458.8,968.0 460.8,968.3 462.8,968.5 464.8,968.2 466.8,968.3 468.8,968.5 470.8,968.7 472.8,968.6 474.8,968.6 476.8,968.1 478.8,967.8 480.8,968.6 482.8,968.3 484.8,968.3 486.8,968.1 488.8,968.0 490.8,968.8 492.8,968.6 494.8,968.1 496.8,968.6 498.8,968.5 500.8,968.6 502.8,969.1 504.8,968.4 506.8,968.0 508.8,968.4 510.8,968.2 512.8,968.4 514.8,968.2 516.8,968.1 518.8,967.6 520.8,967.7 522.8,967.2 524.8,967.3 526.8,966.7 528.8,966.2 530.8,966.4 532.8,965.7 534.8,966.0 536.8,965.3 538.8,965.0 540.8,964.5 542.8,964.2 544.8,963.1 546.8,963.7 548.8,962.6 550.8,962.5 552.8,961.5 554.8,961.0 556.8,960.3 558.8,959.4 560.8,958.9 562.8,958.7 564.8,957.3 566.8,955.9 568.8,955.7 570.8,955.7 572.8,955.7 574.8,954.8 576.8,953.7 578.8,952.0 580.8,952.9 582.8,951.5 584.8,950.6 586.8,950.9 588.8,950.0 590.8,949.2 592.8,947.2 594.8,947.0 596.8,945.4 598.8,946.3 600.8,945.4 602.8,945.5 604.8,944.2 606.8,943.0 608.8,944.2 610.8,940.9 612.8,939.9 614.8,939.7 616.8,939.7 618.8,938.2 620.8,937.3 622.8,935.9 624.8,937.1 626.8,934.5 628.8,933.2 630.8,932.9 632.8,931.2 634.8,930.4 636.8,930.4 638.8,927.6 640.8,926.5 642.8,924.8 644.8,923.5 646.8,922.9 648.8,921.1 650.8,918.9 652.8,917.0 654.8,916.2 656.8,915.6 658.8,913.6 660.8,912.3 662.8,909.7 664.8,910.7 666.8,907.4 668.8,906.3 670.8,905.7 672.8,904.8 674.8,903.6 676.8,901.7 678.8,901.0 680.8,899.7 682.8,897.7 684.8,898.0 686.8,896.7 688.8,896.7 690.8,895.4 692.8,895.6 694.8,894.7 696.8,894.2 698.8,893.7 700.8,892.8 702.8,890.9 704.8,891.9 706.8,888.3 708.8,888.3 710.8,888.4 712.8,886.1 714.8,886.6 716.8,884.0 718.8,883.6 720.8,884.2 722.8,883.7 724.8,883.6 726.8,881.4 728.8,881.2 730.8,881.0 732.8,880.2 734.8,877.5 736.8,877.9 738.8,879.9 740.8,876.2 742.8,878.1 744.8,876.5 746.8,877.9 748.8,875.5 750.8,876.3 752.8,873.6 754.8,875.7 756.8,876.8 758.8,873.6 760.8,876.6 762.8,874.1 764.8,874.7 766.8,871.7 768.8,875.8 770.8,873.4 772.8,873.7 774.8,872.7 776.8,873.0 778.8,875.5 780.8,873.5 782.8,875.3 784.8,874.0 786.8,874.8 788.8,873.8 790.8,875.1 792.8,877.7 794.8,875.7 796.8,875.7 798.8,874.7 800.8,876.6 802.8,877.2 804.8,873.7 806.8,874.3 808.8,878.7 810.8,877.0 812.8,876.9 814.8,877.7 816.8,878.6 818.8,878.5 820.8,877.5 822.8,880.4 824.8,878.2 826.8,875.4 828.5,874.6 830.2,877.6 831.9,875.0 833.6,876.8 835.3,883.6 837.0,847.0 838.7,868.6 840.4,896.0 842.1,887.7 843.8,850.0 845.5,871.9 847.2,895.8 848.9,877.4 850.6,873.9 852.3,905.7 854.0,876.5 855.7,912.0 857.4,881.3 859.1,882.8 860.8,869.9 862.5,858.0 864.2,899.7 865.9,868.4 867.6,887.5 869.3,869.0 871.0,881.7 872.7,884.7 874.4,865.9 876.1,914.0 877.8,884.5 879.5,901.0 881.2,877.1 882.9,898.2 884.6,913.4 886.3,891.4 888.0,883.4 889.7,894.6 891.4,891.9 893.1,889.4 894.8,914.0 896.5,887.8 898.2,895.6 899.9,890.4 901.6,887.9 903.6,898.9 905.6,893.4 907.6,908.9 909.6,894.0 911.6,892.1 913.6,893.6 915.6,898.4 917.6,894.1 919.6,892.2 921.6,904.8 923.6,893.6 925.6,904.7 927.6,899.9 929.6,896.0 931.6,906.0 933.6,900.0 935.6,897.9 937.6,901.7 939.6,905.9 941.6,904.4 943.6,905.2 945.6,908.1 947.6,904.3 949.6,905.1 951.6,904.0 953.6,901.4 955.6,905.0 957.6,909.6 959.6,902.2 961.6,909.7 963.6,907.7 965.6,905.5 967.6,908.1 969.6,912.1 971.6,907.6 973.6,910.8 975.6,911.9 977.6,908.3 979.6,911.7 981.6,911.9 983.6,910.4 985.6,913.0 987.6,911.5 989.6,911.5 991.6,910.7 993.6,914.0 995.6,913.0 997.6,913.2 999.6,912.6 1001.6,912.7 1003.6,914.1 1005.6,917.0 1007.6,914.9 1009.6,919.0 1011.6,917.7 1013.6,917.7 1015.6,915.9 1017.6,921.3 1019.6,916.4 1021.6,919.8 1023.6,921.9 1025.6,919.5 1027.6,919.1 1029.6,920.5 1031.6,922.3 1033.6,923.3 1035.6,922.5 1037.6,920.4 1039.6,921.3 1041.6,923.0 1043.6,921.1 1045.6,923.0 1047.6,927.1 1049.6,922.5 1051.6,926.1 1053.6,923.3 1055.6,924.6 1057.6,925.3 1059.6,923.5 1061.6,926.0 1063.6,928.4 1065.6,927.9 1067.6,928.2 1069.6,926.3 1071.6,927.6 1073.6,928.5 1075.6,929.5 1077.6,930.9 1079.6,927.7 1081.6,932.1 1083.6,929.5 1085.6,929.9 1087.6,928.8 1089.6,930.9 1091.6,931.0 1093.6,929.8 1095.6,931.6 1097.6,932.5 1099.6,932.1 1101.6,934.2 1103.6,931.9 1105.6,935.1 1107.6,933.9 1109.6,935.0 1111.6,932.1 1113.6,935.4 1115.6,935.5 1117.6,937.3 1119.6,934.5 1121.6,938.6 1123.6,935.3 1125.6,939.3 1127.6,938.5 1129.6,936.9 1131.6,941.6 1133.6,936.9 1135.6,938.8 1137.6,939.7 1139.6,940.6 1141.6,940.5 1143.6,941.7 1145.6,941.5 1147.6,941.2 1149.6,940.1 1151.6,941.4 1153.6,943.6 1155.6,940.8 1157.6,943.1 1159.6,940.2 1161.6,942.6 1163.6,941.5 1165.6,946.2 1167.6,942.0 1169.6,944.7 1171.6,946.5 1173.6,946.7 1175.6,947.3 1177.6,948.1 1179.6,947.5 1181.6,948.4 1183.6,947.5 1185.6,947.9 1187.6,945.6 1189.6,948.9 1191.6,950.9 1193.6,948.2 1195.6,947.9 1197.6,950.1 1199.6,952.1 1201.6,952.5 1203.6,948.8 1205.6,952.0 1207.6,950.7 1209.6,952.5 1211.6,949.0 1213.6,954.1 1215.6,952.4 1217.6,953.6 1219.6,953.4 1221.6,952.4 1223.6,955.0 1225.6,953.8 1227.6,953.8 1229.6,956.2 1231.6,955.4 1233.6,954.7 1235.6,957.5 1237.6,955.5 1239.6,956.7 1241.6,958.1 1243.6,958.7 1245.6,959.4 1247.6,960.4 1249.6,958.3 1251.6,957.3 1253.6,961.2 1255.6,961.1 1257.6,958.8 1259.6,960.6 1261.6,959.2 1263.6,957.7 1265.6,961.8 1267.6,961.0 1269.6,960.9 1271.6,963.4 1273.6,963.2 1275.6,960.3 1277.6,959.8 1279.6,958.8 1281.6,961.8 1283.6,961.4 1285.6,962.7 1287.6,962.4 1289.6,961.6 1291.6,962.1 1293.6,960.5 1295.6,964.8 1297.6,962.3 1299.6,964.1 1301.6,962.3 1303.6,963.5 1305.6,964.3 1307.6,963.0 1309.6,962.2 1311.6,966.9 1313.6,963.1 1315.6,964.2 1317.6,963.2 1319.6,962.1 1321.6,965.2 1323.6,963.8 1325.6,963.7 1327.6,959.7 1329.6,963.5 1331.6,964.3 1333.6,963.4 1335.6,962.7 1337.6,964.6 1339.6,963.1 1341.6,963.5 1343.6,964.0 1345.6,963.6 1347.6,959.6 1349.6,961.5 1351.6,959.1 1353.6,956.5 1355.6,959.1 1357.6,955.2 1359.6,956.1 1361.6,951.7 1363.6,952.3 1365.6,951.1 1367.6,949.1 1369.6,944.9 1371.6,940.8 1373.6,936.7 1375.6,937.2 1377.6,932.0 1379.6,931.1 1381.6,933.1 1383.6,927.0 1385.6,926.0 1387.6,927.5 1389.6,928.5 1391.6,927.5 1393.6,929.4 1395.6,929.7 1397.6,927.9 1399.6,931.0 1401.6,928.9 1403.4,936.2 1405.2,937.5 1407.0,944.4 1408.8,942.6 1410.6,940.8 1412.4,942.8 1414.2,942.9 1416.0,941.2 1417.8,939.9 1419.6,946.5 1421.4,947.9 1423.2,943.4 1425.0,944.3 1426.8,944.1 1428.6,948.2 1430.4,949.1 1432.2,944.4 1434.0,946.1 1435.8,946.1 1437.6,948.4 1439.4,950.2 1441.2,951.4 1443.0,948.5 1444.8,947.2 1446.6,951.5 1448.4,952.1 1450.2,950.2 1452.0,952.0 1453.8,953.0 1455.6,954.9 1457.4,953.4 1459.2,955.1 1461.0,954.9 1462.8,952.5 1464.6,957.4 1466.4,956.5 1468.2,959.6 1470.0,954.4 1471.8,956.2 1473.6,959.4 1475.4,954.6 1477.2,959.2 1479.0,958.8 1480.8,959.3 1482.6,960.2 1484.4,955.3 1486.2,961.6 1488.0,962.0 1489.8,964.8 1491.6,966.1 1493.4,963.5 1495.2,965.3 1497.0,956.7 1498.8,964.8 1500.6,966.5 1502.4,966.1 1504.2,964.7 1506.0,963.3 1507.8,963.5 1509.6,964.7 1511.4,966.0 1513.2,966.5 1515.0,964.9 1516.8,961.9 1518.6,970.5 1520.4,963.3 1522.2,959.0 1524.0,969.8 1525.8,968.8 1527.6,966.7 1529.4,969.0 1531.2,967.7 1533.0,964.3 1534.8,967.0 1536.6,963.4 1538.4,965.1 1540.2,964.6 1542.0,967.6 1543.8,970.2 1545.6,965.6 1547.4,968.8 1549.2,961.7 1551.0,964.8 1552.8,969.4 1554.6,970.8 1556.4,970.9 1558.2,971.5 1560.0,964.1 1561.8,967.5 1563.6,962.1 1565.4,968.9 1567.2,970.3 1569.0,968.9 1570.8,967.4 1572.6,971.5 1574.4,972.0 1576.2,971.0 1578.0,969.0 1579.8,971.0 1581.6,971.2 1583.4,971.8 1585.2,972.8 1587.0,970.9 1588.8,966.8 1590.6,970.1 1592.4,971.9 1594.2,969.4 1596.0,971.3 1597.8,968.5 1599.6,974.3 1601.4,971.5 1603.2,970.6 1605.0,972.3 1606.8,972.2 1608.6,970.1 1610.4,972.7 1612.2,971.6 1614.0,970.2 1615.8,969.5 1617.6,966.2 1619.4,970.1 1621.2,970.0 1623.0,967.0 1624.8,973.7 1626.6,969.6 1628.4,966.5 1630.2,968.5 1632.0,969.7 1633.8,969.8 1635.6,967.7 1637.4,970.2 1639.2,965.8 1641.0,969.0 1642.8,971.7 1644.6,968.5 1646.4,972.6 1648.2,973.2 1650.0,969.0 1651.8,963.6 1653.6,973.7 1655.4,975.3 1657.2,966.3 1659.0,972.0 1660.8,972.5 1662.6,966.6 1664.4,970.1 1666.2,975.8 1668.0,972.8 1669.8,972.3 1671.6,976.0 1673.4,970.7 1675.2,967.0 1677.0,977.0 1678.8,970.4 1680.6,972.9 1682.4,976.7 1684.2,973.9 1686.0,973.6 1687.8,971.2 1689.6,974.9 1691.4,980.0 1693.2,971.0 1695.0,969.2 1696.8,973.5 1698.6,970.0 1700.4,972.5 1702.2,972.0 1704.0,973.3 1705.8,972.1 1707.6,972.2 1709.4,975.0 1711.2,967.6 1713.0,970.6 1714.8,971.3 1716.6,966.1 1718.4,966.8 1720.2,968.6 1722.0,967.8 1723.8,973.1 1725.6,969.8 1727.4,977.3 1729.2,968.0 1731.0,968.1 1732.8,976.5 1734.6,967.1 1736.4,976.1 1738.2,960.4 1740.0,966.5 1741.8,973.3 1743.6,973.9 1745.4,970.0 1747.2,966.3 1749.0,967.9 1750.8,970.8 1752.6,969.2 1754.4,971.2 1756.2,965.5 1758.0,970.6 1759.8,971.9 1761.6,975.7 1763.4,969.7 1765.2,969.5 1767.0,964.0 1768.8,962.2 1770.6,958.7 1772.4,967.8 1774.2,972.9 1776.0,965.5 1777.8,957.2 1779.6,966.1 1781.4,964.6 1783.2,963.8 1785.0,971.0 1786.8,969.0 1788.6,969.8 1790.4,961.8 1792.2,965.7 1794.0,960.6 1795.8,968.3 1797.6,960.4 1799.4,968.5 1801.2,965.0 1803.0,964.9 1804.8,959.0 1806.6,966.4 1808.4,957.5 1810.2,959.4 1812.0,960.4 1813.8,970.9 1815.6,963.9 1817.4,961.0 1819.2,965.1 1821.0,971.5 1822.8,962.4 1824.6,958.9 1826.4,958.2 1828.2,961.2 1830.0,966.4 1831.8,958.9 1833.6,957.3 1835.4,953.2 1837.2,950.8 1839.0,955.3 1840.8,948.5 1842.6,943.8 1844.4,932.0 1846.2,933.7 1848.0,927.3 1849.8,925.7 1851.6,917.7 1853.4,905.6 1855.2,900.1 1857.0,890.3 1858.8,877.5 1860.6,863.1 1862.4,862.8 1864.2,862.5 1866.0,843.3 1867.8,846.7 1869.6,830.8 1871.4,827.1 1873.2,826.0 1875.0,822.6 1876.8,830.7 1878.6,833.8 1880.4,814.1 1882.2,837.2 1884.0,838.4 1885.8,850.5 1887.6,838.2 1889.4,847.3 1891.2,856.6 1893.0,857.2 1894.8,863.5 1896.6,851.8 1898.4,854.7 1900.2,864.4 1902.0,854.7 1903.8,867.5 1905.6,872.3 1907.4,870.6 1909.2,862.1 1911.0,868.5 1912.8,871.8 1914.6,878.0 1916.4,879.1 1918.2,877.3 1920.0,872.1 1921.8,873.4 1923.6,880.1 1925.4,881.3 1927.2,884.3 1929.0,881.6 1930.8,887.2 1932.6,884.4 1934.4,889.2 1936.2,888.0 1938.0,891.6 1939.8,882.2 1941.6,882.1 1943.4,879.0 1945.2,884.3 1947.0,886.7 1948.8,889.6 1950.6,888.4 1952.4,892.6 1954.2,902.3 1956.0,901.6 1957.8,898.8 1959.6,910.9 1961.4,905.1 1963.2,899.1 1963.5,906.8"/>
<polyline fill="none" stroke="#737373" stroke-width="9" stroke-linejoin="round" points="180.0,992.9 182.0,950.2 184.0,926.7 186.0,907.8 188.0,890.3 190.0,876.4 192.0,864.3 194.0,853.2 196.0,845.0 198.0,836.5 200.0,830.5 202.0,823.7 204.0,818.4 206.0,815.5 208.0,812.6 210.0,811.5 212.0,812.1 214.0,813.6 216.0,816.3 218.0,821.6 220.0,828.3 222.0,835.7 224.0,841.4 226.0,848.8 228.0,856.7 230.0,864.3 232.0,874.1 234.0,883.6 236.0,893.9 238.0,905.1 240.0,915.9 242.0,927.1 244.0,940.4 246.0,953.3 248.0,965.6 250.0,976.9 252.0,986.0 254.0,995.3 256.0,1003.7 258.0,1011.8 260.0,1019.6 262.0,1026.3 264.0,1033.3 266.0,1041.0 268.0,1047.6 270.0,1054.1 272.0,1061.5 274.0,1067.2 276.0,1073.2 278.0,1078.7 280.0,1084.3 282.0,1089.5 284.0,1093.8 286.0,1098.6 288.0,1102.7 290.0,1107.7 292.0,1111.5 294.4,1113.7 296.8,1122.6 299.2,1124.3 301.6,1120.9 304.0,1114.5 306.4,1117.5 308.8,1122.7 311.2,1123.5 313.6,1120.6 316.0,1128.4 318.4,1124.6 320.8,1121.4 323.2,1130.7 325.6,1133.6 328.0,1131.6 330.4,1135.4 332.8,1136.2 335.2,1130.7 337.6,1126.7 340.0,1128.7 342.4,1123.2 344.8,1127.9 347.2,1126.8 349.6,1126.5 352.0,1128.0 354.4,1110.5 356.8,1107.9 358.8,1105.8 360.8,1104.5 362.8,1102.7 364.8,1100.8 366.8,1099.9 368.8,1098.1 370.8,1097.3 372.8,1095.9 374.8,1095.0 376.8,1094.3 378.8,1094.0 380.8,1092.9 382.8,1092.0 384.8,1091.8 386.8,1090.8 388.8,1090.2 390.8,1089.6 392.8,1089.6 394.8,1089.3 396.8,1088.8 398.8,1088.2 400.8,1088.5 402.8,1088.4 404.8,1088.0 406.8,1087.6 408.8,1087.4 410.8,1087.4 412.8,1087.8 414.8,1087.3 416.8,1086.4 418.8,1086.9 420.8,1086.3 422.8,1086.9 424.8,1085.8 426.8,1085.7 428.8,1085.5 430.8,1085.3 432.8,1085.0 434.8,1084.8 436.8,1084.5 438.8,1084.2 440.8,1084.1 442.8,1083.7 444.8,1083.7 446.8,1083.5 448.8,1083.4 450.8,1083.2 452.8,1083.1 454.8,1083.1 456.8,1082.8 458.8,1082.7 460.8,1082.6 462.8,1082.3 464.8,1082.2 466.8,1082.1 468.8,1081.4 470.8,1081.9 472.8,1081.4 474.8,1080.6 476.8,1081.4 478.8,1080.7 480.8,1081.2 482.8,1080.5 484.8,1080.6 486.8,1080.7 488.8,1080.1 490.8,1079.9 492.8,1080.0 494.8,1080.3 496.8,1080.1 498.8,1080.0 500.8,1079.6 502.8,1079.4 504.8,1079.4 506.8,1079.0 508.8,1078.4 510.8,1078.6 512.8,1078.0 514.8,1077.6 516.8,1077.5 518.8,1077.1 520.8,1077.0 522.8,1076.5 524.8,1075.8 526.8,1075.5 528.8,1074.9 530.8,1074.5 532.8,1074.5 534.8,1073.8 536.8,1073.0 538.8,1072.6 540.8,1072.0 542.8,1071.6 544.8,1070.7 546.8,1070.8 548.8,1070.0 550.8,1069.6 552.8,1069.1 554.8,1068.2 556.8,1067.2 558.8,1066.4 560.8,1066.7 562.8,1066.0 564.8,1063.4 566.8,1063.0 568.8,1063.9 570.8,1062.3 572.8,1063.0 574.8,1061.0 576.8,1060.5 578.8,1058.9 580.8,1057.8 582.8,1056.1 584.8,1054.3 586.8,1056.3 588.8,1055.1 590.8,1053.1 592.8,1053.4 594.8,1050.3 596.8,1051.8 598.8,1049.8 600.8,1049.8 602.8,1046.0 604.8,1047.4 606.8,1045.9 608.8,1044.4 610.8,1042.3 612.8,1042.1 614.8,1040.9 616.8,1039.1 618.8,1037.3 620.8,1036.4 622.8,1035.7 624.8,1035.9 626.8,1034.8 628.8,1034.1 630.8,1031.9 632.8,1029.2 634.8,1028.5 636.8,1026.9 638.8,1026.3 640.8,1026.3 642.8,1023.8 644.8,1022.3 646.8,1021.8 648.8,1020.6 650.8,1019.5 652.8,1016.8 654.8,1015.6 656.8,1014.7 658.8,1014.5 660.8,1013.0 662.8,1011.0 664.8,1012.3 666.8,1009.4 668.8,1008.8 670.8,1007.9 672.8,1006.4 674.8,1006.1 676.8,1005.2 678.8,1004.4 680.8,1003.4 682.8,1001.7 684.8,1000.3 686.8,1000.8 688.8,998.6 690.8,998.5 692.8,996.9 694.8,997.4 696.8,994.2 698.8,991.8 700.8,991.7 702.8,992.4 704.8,992.1 706.8,990.8 708.8,988.3 710.8,988.3 712.8,984.2 714.8,983.7 716.8,982.4 718.8,983.3 720.8,983.2 722.8,980.8 724.8,980.4 726.8,978.5 728.8,977.8 730.8,977.6 732.8,978.5 734.8,976.5 736.8,975.8 738.8,975.8 740.8,974.7 742.8,972.5 744.8,974.9 746.8,972.1 748.8,971.9 750.8,971.3 752.8,971.7 754.8,970.2 756.8,970.5 758.8,971.8 760.8,968.4 762.8,966.7 764.8,970.2 766.8,968.6 768.8,968.9 770.8,968.7 772.8,967.2 774.8,967.7 776.8,965.3 778.8,967.2 780.8,967.4 782.8,965.9 784.8,966.5 786.8,967.3 788.8,968.0 790.8,967.5 792.8,969.6 794.8,969.0 796.8,969.3 798.8,966.5 800.8,968.3 802.8,969.3 804.8,968.8 806.8,969.8 808.8,969.3 810.8,969.3 812.8,970.7 814.8,971.2 816.8,971.1 818.8,971.7 820.8,973.2 822.8,973.0 824.8,973.6 826.8,975.0 828.5,974.0 830.2,970.8 831.9,991.8 833.6,948.0 835.3,984.3 837.0,966.6 838.7,1008.0 840.4,959.1 842.1,971.4 843.8,948.0 845.5,986.4 847.2,1005.0 848.9,970.2 850.6,997.8 852.3,972.4 854.0,1011.0 855.7,1006.9 857.4,982.6 859.1,979.1 860.8,973.4 862.5,991.8 864.2,990.9 865.9,955.2 867.6,979.0 869.3,982.1 871.0,984.9 872.7,969.1 874.4,980.2 876.1,994.3 877.8,989.7 879.5,974.1 881.2,983.9 882.9,977.1 884.6,987.7 886.3,965.6 888.0,988.9 889.7,985.0 891.4,990.6 893.1,1008.0 894.8,982.7 896.5,977.5 898.2,988.3 899.9,987.0 901.6,998.3 903.6,991.1 905.6,973.3 907.6,989.1 909.6,988.4 911.6,993.7 913.6,992.2 915.6,985.1 917.6,988.1 919.6,995.3 921.6,987.0 923.6,991.7 925.6,987.0 927.6,996.8 929.6,997.2 931.6,993.3 933.6,989.8 935.6,992.1 937.6,993.7 939.6,993.7 941.6,996.3 943.6,991.4 945.6,992.7 947.6,994.3 949.6,999.6 951.6,995.0 953.6,998.8 955.6,1001.0 957.6,996.1 959.6,995.6 961.6,996.3 963.6,1002.0 965.6,1002.2 967.6,1001.5 969.6,1000.3 971.6,1003.0 973.6,1000.5 975.6,1004.8 977.6,1004.5 979.6,1004.9 981.6,1007.9 983.6,1004.1 985.6,1004.5 987.6,1007.6 989.6,1009.2 991.6,1006.3 993.6,1006.6 995.6,1008.4 997.6,1010.1 999.6,1008.4 1001.6,1011.5 1003.6,1013.7 1005.6,1010.7 1007.6,1010.4 1009.6,1015.0 1011.6,1010.1 1013.6,1014.2 1015.6,1014.4 1017.6,1011.2 1019.6,1014.7 1021.6,1016.4 1023.6,1014.0 1025.6,1011.5 1027.6,1014.2 1029.6,1018.7 1031.6,1014.7 1033.6,1018.2 1035.6,1015.3 1037.6,1016.9 1039.6,1016.9 1041.6,1018.3 1043.6,1019.7 1045.6,1019.5 1047.6,1018.6 1049.6,1020.2 1051.6,1020.5 1053.6,1020.6 1055.6,1020.8 1057.6,1021.1 1059.6,1022.9 1061.6,1026.2 1063.6,1023.5 1065.6,1024.2 1067.6,1023.0 1069.6,1023.9 1071.6,1027.3 1073.6,1025.1 1075.6,1026.7 1077.6,1027.7 1079.6,1026.0 1081.6,1028.9 1083.6,1028.8 1085.6,1029.0 1087.6,1027.3 1089.6,1029.2 1091.6,1026.5 1093.6,1030.0 1095.6,1030.4 1097.6,1030.0 1099.6,1031.6 1101.6,1029.4 1103.6,1030.8 1105.6,1030.1 1107.6,1032.9 1109.6,1032.4 1111.6,1035.0 1113.6,1032.8 1115.6,1035.1 1117.6,1034.7 1119.6,1035.6 1121.6,1036.7 1123.6,1038.2 1125.6,1038.4 1127.6,1034.7 1129.6,1037.9 1131.6,1036.0 1133.6,1038.4 1135.6,1037.0 1137.6,1040.1 1139.6,1040.2 1141.6,1039.5 1143.6,1038.3 1145.6,1037.8 1147.6,1038.5 1149.6,1040.5 1151.6,1042.1 1153.6,1043.0 1155.6,1043.5 1157.6,1040.9 1159.6,1042.5 1161.6,1044.3 1163.6,1044.1 1165.6,1043.5 1167.6,1042.1 1169.6,1047.0 1171.6,1044.5 1173.6,1042.5 1175.6,1045.8 1177.6,1046.0 1179.6,1045.7 1181.6,1046.1 1183.6,1044.7 1185.6,1048.8 1187.6,1047.0 1189.6,1044.6 1191.6,1047.4 1193.6,1044.6 1195.6,1048.7 1197.6,1047.5 1199.6,1049.5 1201.6,1050.5 1203.6,1049.6 1205.6,1053.5 1207.6,1050.5 1209.6,1051.5 1211.6,1051.0 1213.6,1050.8 1215.6,1050.4 1217.6,1053.5 1219.6,1053.2 1221.6,1054.7 1223.6,1051.8 1225.6,1051.8 1227.6,1052.9 1229.6,1053.6 1231.6,1053.5 1233.6,1051.2 1235.6,1054.0 1237.6,1054.8 1239.6,1055.4 1241.6,1054.5 1243.6,1055.2 1245.6,1057.2 1247.6,1057.6 1249.6,1056.1 1251.6,1056.2 1253.6,1056.5 1255.6,1058.0 1257.6,1057.2 1259.6,1057.5 1261.6,1059.6 1263.6,1056.9 1265.6,1056.5 1267.6,1058.1 1269.6,1061.2 1271.6,1059.6 1273.6,1056.8 1275.6,1060.7 1277.6,1060.0 1279.6,1060.5 1281.6,1058.2 1283.6,1059.8 1285.6,1060.4 1287.6,1062.8 1289.6,1060.7 1291.6,1061.0 1293.6,1060.5 1295.6,1064.1 1297.6,1062.7 1299.6,1064.6 1301.6,1063.6 1303.6,1064.7 1305.6,1062.7 1307.6,1064.8 1309.6,1063.2 1311.6,1062.9 1313.6,1065.4 1315.6,1062.2 1317.6,1064.2 1319.6,1064.5 1321.6,1064.4 1323.6,1064.1 1325.6,1065.5 1327.6,1063.0 1329.6,1066.2 1331.6,1066.2 1333.6,1064.4 1335.6,1063.9 1337.6,1062.3 1339.6,1062.7 1341.6,1063.0 1343.6,1064.1 1345.6,1065.9 1347.6,1060.7 1349.6,1063.8 1351.6,1062.0 1353.6,1061.4 1355.6,1060.3 1357.6,1058.2 1359.6,1057.6 1361.6,1056.9 1363.6,1056.8 1365.6,1053.2 1367.6,1054.1 1369.6,1052.2 1371.6,1048.4 1373.6,1047.3 1375.6,1046.8 1377.6,1041.6 1379.6,1040.9 1381.6,1042.9 1383.6,1042.5 1385.6,1040.1 1387.6,1039.6 1389.6,1042.5 1391.6,1044.9 1393.6,1044.0 1395.6,1045.1 1397.6,1049.8 1399.6,1050.6 1401.6,1047.6 1403.4,1049.3 1405.2,1051.7 1407.0,1055.7 1408.8,1056.0 1410.6,1055.0 1412.4,1051.2 1414.2,1062.3 1416.0,1055.1 1417.8,1061.6 1419.6,1061.8 1421.4,1059.9 1423.2,1059.9 1425.0,1057.4 1426.8,1056.9 1428.6,1057.8 1430.4,1056.9 1432.2,1060.3 1434.0,1057.7 1435.8,1064.8 1437.6,1067.8 1439.4,1056.0 1441.2,1058.9 1443.0,1064.2 1444.8,1063.5 1446.6,1062.5 1448.4,1063.2 1450.2,1065.0 1452.0,1063.1 1453.8,1066.4 1455.6,1068.4 1457.4,1068.9 1459.2,1070.7 1461.0,1067.2 1462.8,1068.2 1464.6,1063.0 1466.4,1067.2 1468.2,1065.7 1470.0,1071.6 1471.8,1073.9 1473.6,1068.3 1475.4,1068.6 1477.2,1068.6 1479.0,1070.1 1480.8,1068.3 1482.6,1073.2 1484.4,1070.3 1486.2,1075.5 1488.0,1073.7 1489.8,1070.7 1491.6,1070.3 1493.4,1074.4 1495.2,1071.1 1497.0,1067.9 1498.8,1071.8 1500.6,1070.4 1502.4,1078.3 1504.2,1072.8 1506.0,1071.6 1507.8,1067.2 1509.6,1076.6 1511.4,1074.9 1513.2,1073.6 1515.0,1073.1 1516.8,1074.4 1518.6,1076.1 1520.4,1074.6 1522.2,1072.9 1524.0,1074.9 1525.8,1068.4 1527.6,1073.0 1529.4,1073.7 1531.2,1072.8 1533.0,1074.3 1534.8,1077.0 1536.6,1074.8 1538.4,1071.3 1540.2,1076.2 1542.0,1078.0 1543.8,1078.2 1545.6,1077.5 1547.4,1078.7 1549.2,1075.6 1551.0,1069.0 1552.8,1074.7 1554.6,1072.6 1556.4,1076.5 1558.2,1078.1 1560.0,1074.4 1561.8,1078.9 1563.6,1072.7 1565.4,1078.1 1567.2,1073.7 1569.0,1074.5 1570.8,1073.2 1572.6,1077.4 1574.4,1081.1 1576.2,1075.1 1578.0,1075.8 1579.8,1078.3 1581.6,1074.5 1583.4,1077.0 1585.2,1076.1 1587.0,1074.3 1588.8,1073.3 1590.6,1080.1 1592.4,1076.8 1594.2,1074.8 1596.0,1080.3 1597.8,1077.4 1599.6,1073.9 1601.4,1074.0 1603.2,1077.0 1605.0,1075.5 1606.8,1078.4 1608.6,1073.8 1610.4,1073.2 1612.2,1076.8 1614.0,1079.6 1615.8,1076.1 1617.6,1085.0 1619.4,1084.1 1621.2,1077.3 1623.0,1075.0 1624.8,1078.3 1626.6,1076.2 1628.4,1077.5 1630.2,1078.9 1632.0,1077.8 1633.8,1072.1 1635.6,1083.3 1637.4,1075.3 1639.2,1077.3 1641.0,1079.8 1642.8,1078.1 1644.6,1078.2 1646.4,1079.3 1648.2,1074.3 1650.0,1078.9 1651.8,1080.6 1653.6,1077.1 1655.4,1081.5 1657.2,1082.6 1659.0,1077.2 1660.8,1080.9 1662.6,1078.8 1664.4,1081.7 1666.2,1077.4 1668.0,1073.8 1669.8,1081.3 1671.6,1080.7 1673.4,1079.9 1675.2,1076.0 1677.0,1077.0 1678.8,1080.0 1680.6,1079.1 1682.4,1076.4 1684.2,1078.5 1686.0,1080.7 1687.8,1076.7 1689.6,1078.5 1691.4,1076.6 1693.2,1081.5 1695.0,1078.3 1696.8,1078.3 1698.6,1081.3 1700.4,1079.4 1702.2,1076.4 1704.0,1081.1 1705.8,1073.0 1707.6,1073.3 1709.4,1078.2 1711.2,1076.2 1713.0,1080.3 1714.8,1077.1 1716.6,1076.7 1718.4,1079.3 1720.2,1074.2 1722.0,1071.3 1723.8,1077.9 1725.6,1073.3 1727.4,1076.9 1729.2,1072.7 1731.0,1074.7 1732.8,1073.7 1734.6,1072.4 1736.4,1072.9 1738.2,1076.3 1740.0,1074.4 1741.8,1076.4 1743.6,1071.7 1745.4,1071.9 1747.2,1070.3 1749.0,1071.0 1750.8,1073.7 1752.6,1073.4 1754.4,1075.2 1756.2,1077.0 1758.0,1075.4 1759.8,1072.8 1761.6,1070.6 1763.4,1078.3 1765.2,1075.0 1767.0,1065.0 1768.8,1073.7 1770.6,1076.2 1772.4,1071.5 1774.2,1074.3 1776.0,1072.4 1777.8,1073.9 1779.6,1072.3 1781.4,1074.2 1783.2,1072.6 1785.0,1074.1 1786.8,1070.7 1788.6,1073.9 1790.4,1070.7 1792.2,1066.0 1794.0,1072.5 1795.8,1072.4 1797.6,1068.8 1799.4,1076.2 1801.2,1070.3 1803.0,1074.0 1804.8,1070.5 1806.6,1072.2 1808.4,1072.9 1810.2,1074.8 1812.0,1069.2 1813.8,1067.2 1815.6,1076.7 1817.4,1071.3 1819.2,1078.7 1821.0,1070.5 1822.8,1065.7 1824.6,1071.7 1826.4,1072.6 1828.2,1070.7 1830.0,1067.4 1831.8,1069.4 1833.6,1062.7 1835.4,1061.1 1837.2,1064.2 1839.0,1064.8 1840.8,1051.5 1842.6,1057.0 1844.4,1050.9 1846.2,1045.2 1848.0,1044.6 1849.8,1039.0 1851.6,1034.4 1853.4,1031.0 1855.2,1024.2 1857.0,1020.5 1858.8,1012.6 1860.6,996.4 1862.4,990.4 1864.2,972.9 1866.0,975.1 1867.8,965.5 1869.6,966.4 1871.4,966.5 1873.2,967.8 1875.0,961.7 1876.8,978.1 1878.6,965.1 1880.4,956.2 1882.2,976.4 1884.0,965.4 1885.8,967.0 1887.6,976.0 1889.4,971.0 1891.2,986.2 1893.0,993.1 1894.8,994.7 1896.6,992.9 1898.4,993.6 1900.2,1004.4 1902.0,1008.9 1903.8,1009.1 1905.6,1010.5 1907.4,1019.6 1909.2,1013.8 1911.0,1008.8 1912.8,1009.2 1914.6,1020.7 1916.4,1029.2 1918.2,1021.8 1920.0,1021.2 1921.8,1020.3 1923.6,1031.6 1925.4,1017.6 1927.2,1022.7 1929.0,1036.2 1930.8,1026.7 1932.6,1028.1 1934.4,1036.9 1936.2,1036.0 1938.0,1030.5 1939.8,1035.6 1941.6,1015.8 1943.4,1020.7 1945.2,1026.7 1947.0,1020.2 1948.8,1022.3 1950.6,1022.5 1952.4,1031.0 1954.2,1028.7 1956.0,1042.0 1957.8,1038.3 1959.6,1046.7 1961.4,1030.8 1963.2,1028.0 1963.5,1039.5"/>
</g>
<g shape-rendering="crispEdges">
<rect x="203" y="141" width="5" height="7" fill="#000"/>
<rect x="203" y="163" width="5" height="7" fill="#000"/>
<rect x="203" y="184" width="5" height="7" fill="#000"/>
<rect x="203" y="205" width="5" height="7" fill="#000"/>
<rect x="203" y="226" width="5" height="7" fill="#000"/>
<rect x="203" y="248" width="5" height="7" fill="#000"/>
<rect x="203" y="269" width="5" height="7" fill="#000"/>
<rect x="203" y="290" width="5" height="7" fill="#000"/>
<rect x="203" y="311" width="5" height="7" fill="#000"/>
<rect x="203" y="333" width="5" height="7" fill="#000"/>
<rect x="203" y="354" width="5" height="7" fill="#000"/>
<rect x="203" y="375" width="5" height="7" fill="#000"/>
<rect x="203" y="397" width="5" height="7" fill="#000"/>
<rect x="203" y="418" width="5" height="7" fill="#000"/>
<rect x="203" y="439" width="5" height="7" fill="#000"/>
<rect x="203" y="460" width="5" height="7" fill="#000"/>
<rect x="203" y="482" width="5" height="7" fill="#000"/>
<rect x="203" y="503" width="5" height="7" fill="#000"/>
<rect x="203" y="524" width="5" height="7" fill="#000"/>
<rect x="203" y="545" width="5" height="7" fill="#000"/>
<rect x="203" y="567" width="5" height="7" fill="#000"/>
<rect x="203" y="588" width="5" height="7" fill="#000"/>
<rect x="203" y="609" width="5" height="7" fill="#000"/>
<rect x="203" y="631" width="5" height="7" fill="#000"/>
<rect x="203" y="652" width="5" height="7" fill="#000"/>
<rect x="203" y="673" width="5" height="7" fill="#000"/>
<rect x="203" y="694" width="5" height="7" fill="#000"/>
<rect x="203" y="716" width="5" height="7" fill="#000"/>
<rect x="203" y="737" width="5" height="7" fill="#000"/>
<rect x="203" y="758" width="5" height="7" fill="#000"/>
<rect x="203" y="779" width="5" height="7" fill="#000"/>
<rect x="203" y="801" width="5" height="7" fill="#000"/>
<rect x="203" y="822" width="5" height="7" fill="#000"/>
<rect x="203" y="843" width="5" height="7" fill="#000"/>
<rect x="399" y="464" width="5" height="7" fill="#000"/>
<rect x="399" y="485" width="5" height="7" fill="#000"/>
<rect x="399" y="506" width="5" height="7" fill="#000"/>
<rect x="399" y="528" width="5" height="7" fill="#000"/>
<rect x="399" y="549" width="5" height="7" fill="#000"/>
<rect x="399" y="570" width="5" height="7" fill="#000"/>
<rect x="399" y="592" width="5" height="7" fill="#000"/>
<rect x="399" y="613" width="5" height="7" fill="#000"/>
<rect x="399" y="634" width="5" height="7" fill="#000"/>
<rect x="399" y="655" width="5" height="7" fill="#000"/>
<rect x="399" y="677" width="5" height="7" fill="#000"/>
<rect x="399" y="698" width="5" height="7" fill="#000"/>
<rect x="399" y="719" width="5" height="7" fill="#000"/>
<rect x="399" y="740" width="5" height="7" fill="#000"/>
<rect x="399" y="762" width="5" height="7" fill="#000"/>
<rect x="399" y="783" width="5" height="7" fill="#000"/>
<rect x="399" y="804" width="5" height="7" fill="#000"/>
<rect x="399" y="825" width="5" height="7" fill="#000"/>
<rect x="399" y="847" width="5" height="7" fill="#000"/>
<rect x="399" y="868" width="5" height="7" fill="#000"/>
<rect x="399" y="889" width="5" height="7" fill="#000"/>
<rect x="399" y="911" width="5" height="7" fill="#000"/>
<rect x="399" y="932" width="5" height="7" fill="#000"/>
<rect x="399" y="953" width="5" height="7" fill="#000"/>
<rect x="399" y="974" width="5" height="7" fill="#000"/>
<rect x="399" y="996" width="5" height="7" fill="#000"/>
<rect x="399" y="1017" width="5" height="7" fill="#000"/>
<rect x="399" y="1038" width="5" height="7" fill="#000"/>
<rect x="399" y="1059" width="5" height="7" fill="#000"/>
<rect x="399" y="1081" width="5" height="7" fill="#000"/>
<rect x="399" y="1102" width="5" height="7" fill="#000"/>
<rect x="399" y="1123" width="5" height="6" fill="#000"/>
<rect x="777" y="359" width="4" height="7" fill="#000"/>
<rect x="777" y="380" width="4" height="7" fill="#000"/>
<rect x="777" y="402" width="4" height="7" fill="#000"/>
<rect x="777" y="423" width="4" height="7" fill="#000"/>
<rect x="777" y="444" width="4" height="7" fill="#000"/>
<rect x="777" y="465" width="4" height="7" fill="#000"/>
<rect x="777" y="487" width="4" height="7" fill="#000"/>
<rect x="777" y="508" width="4" height="7" fill="#000"/>
<rect x="777" y="529" width="4" height="7" fill="#000"/>
<rect x="777" y="550" width="4" height="7" fill="#000"/>
<rect x="777" y="572" width="4" height="7" fill="#000"/>
<rect x="777" y="593" width="4" height="7" fill="#000"/>
<rect x="777" y="614" width="4" height="7" fill="#000"/>
<rect x="777" y="636" width="4" height="7" fill="#000"/>
<rect x="777" y="657" width="4" height="7" fill="#000"/>
<rect x="777" y="678" width="4" height="7" fill="#000"/>
<rect x="777" y="699" width="4" height="7" fill="#000"/>
<rect x="777" y="721" width="4" height="7" fill="#000"/>
<rect x="777" y="742" width="4" height="7" fill="#000"/>
<rect x="777" y="763" width="4" height="7" fill="#000"/>
<rect x="777" y="784" width="4" height="7" fill="#000"/>
<rect x="777" y="806" width="4" height="7" fill="#000"/>
<rect x="777" y="827" width="4" height="7" fill="#000"/>
<rect x="777" y="848" width="4" height="7" fill="#000"/>
<rect x="777" y="869" width="4" height="7" fill="#000"/>
<rect x="777" y="891" width="4" height="7" fill="#000"/>
<rect x="777" y="912" width="4" height="7" fill="#000"/>
<rect x="777" y="933" width="4" height="7" fill="#000"/>
<rect x="777" y="955" width="4" height="7" fill="#000"/>
<rect x="777" y="976" width="4" height="7" fill="#000"/>
<rect x="777" y="997" width="4" height="4" fill="#000"/>
</g>
<g>
<line x1="1359.5" y1="73.4" x2="1456" y2="73.4" stroke="#DC9B00" stroke-width="9" stroke-linecap="round"/>
<line x1="1359.5" y1="127.1" x2="1456" y2="127.1" stroke="#C279E0" stroke-width="9" stroke-linecap="round"/>
<line x1="1359.5" y1="180.8" x2="1456" y2="180.8" stroke="#00AC65" stroke-width="9" stroke-linecap="round"/>
<line x1="1359.5" y1="234.6" x2="1456" y2="234.6" stroke="#006BE0" stroke-width="9" stroke-linecap="round"/>
<line x1="1359.5" y1="288.3" x2="1456" y2="288.3" stroke="#FF3C3C" stroke-width="9" stroke-linecap="round"/>
<line x1="1359.5" y1="342.0" x2="1456" y2="342.0" stroke="#737373" stroke-width="9" stroke-linecap="round"/>
</g>
<g>
<text transform="translate(0,1253.7) scale(1.15,1)" x="107.17 141.18 173.62" y="0" font-size="62.4">200</text>
<text transform="translate(0,1253.7) scale(1.15,1)" x="280.7 313.5 345.94" y="0" font-size="62.4">400</text>
<text transform="translate(0,1253.7) scale(1.15,1)" x="453.66 485.82 518.26" y="0" font-size="62.4">600</text>
<text transform="translate(0,1253.7) scale(1.15,1)" x="625.79 658.14 690.57" y="0" font-size="62.4">800</text>
<text transform="translate(0,1253.7) scale(1.15,1)" x="780.91 813.61 846.05 878.48" y="0" font-size="62.4">1000</text>
<text transform="translate(0,1253.7) scale(1.15,1)" x="953.23 984.36 1018.37 1050.8" y="0" font-size="62.4">1200</text>
<text transform="translate(0,1253.7) scale(1.15,1)" x="1125.55 1157.89 1190.69 1223.12" y="0" font-size="62.4">1400</text>
<text transform="translate(0,1253.7) scale(1.15,1)" x="1297.87 1330.85 1363.01 1395.44" y="0" font-size="62.4">1600</text>
<text transform="translate(0,1253.7) scale(1.15,1)" x="1470.19 1502.98 1535.32 1567.76" y="0" font-size="62.4">1800</text>
<text transform="translate(0,1253.7) scale(1.15,1)" x="1641.2 1675.21 1707.64 1740.08" y="0" font-size="62.4">2000</text>
<text transform="translate(0,1343)" x="902.53 941.94 962.06 990.64 1036.57 1105.58" y="0" font-size="80.5">λ (nm)</text>
<text transform="translate(82.9,851.1) rotate(-90)" x="-5.86 23.97 70.44 100.03 139.02 186 220.27 245.69 273.27 313.61 333.49 361.15 401.16 421.53 465.26 483.94" y="0" font-size="79.5">Intensity (a.u.)</text>
<text transform="translate(0,116) scale(1.1,1)" x="171.84 193.64 216.59" y="0" font-size="41.8">227</text>
<text transform="translate(0,428.6) scale(1.1,1)" x="336.06 358.25 380.5" y="0" font-size="41.8">420</text>
<text transform="translate(0,329.7) scale(1.1,1)" x="677.78 700.46 723.43" y="0" font-size="41.8">804</text>
<text x="1466" y="89" font-size="42"><tspan textLength="108.39" lengthAdjust="spacingAndGlyphs">0.025</tspan><tspan x="1574.7" textLength="236" lengthAdjust="spacingAndGlyphs">Cu/SAPO-34</tspan></text>
<text x="1466" y="143" font-size="42"><tspan textLength="84.3" lengthAdjust="spacingAndGlyphs">0.05</tspan> <tspan x="1559.1" textLength="236" lengthAdjust="spacingAndGlyphs">Cu/SAPO-34</tspan></text>
<text x="1466" y="196.9" font-size="42"><tspan textLength="108.39" lengthAdjust="spacingAndGlyphs">0.075</tspan><tspan x="1574.7" textLength="236" lengthAdjust="spacingAndGlyphs">Cu/SAPO-34</tspan></text>
<text x="1466" y="250.6" font-size="42"><tspan textLength="60.22" lengthAdjust="spacingAndGlyphs">0.1</tspan><tspan x="1525.7" textLength="236" lengthAdjust="spacingAndGlyphs">Cu/SAPO-34</tspan></text>
<text x="1466" y="304.2" font-size="42"><tspan textLength="84.3" lengthAdjust="spacingAndGlyphs">0.15</tspan> <tspan x="1559.1" textLength="236" lengthAdjust="spacingAndGlyphs">Cu/SAPO-34</tspan></text>
<text x="1466" y="358" font-size="42"><tspan textLength="60.22" lengthAdjust="spacingAndGlyphs">0.2</tspan><tspan x="1525.7" textLength="236" lengthAdjust="spacingAndGlyphs">Cu/SAPO-34</tspan></text>
</g>
</svg>
</body></html>
